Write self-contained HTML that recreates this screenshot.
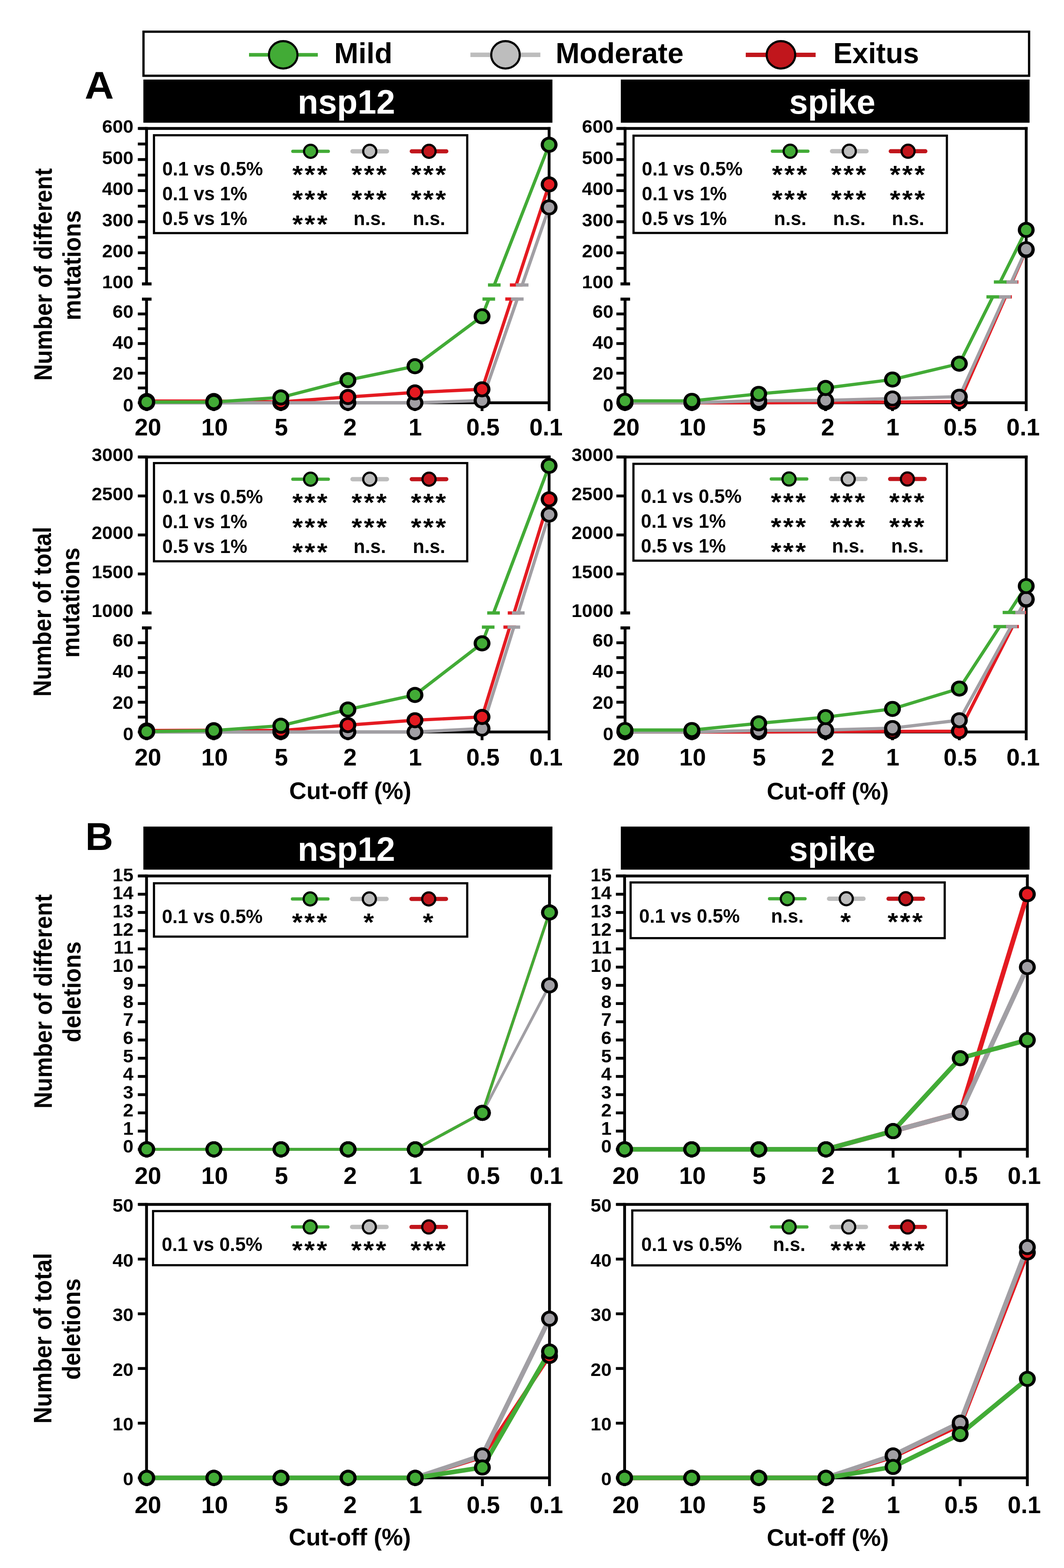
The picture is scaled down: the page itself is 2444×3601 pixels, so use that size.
<!DOCTYPE html>
<html><head><meta charset="utf-8"><title>Figure</title>
<style>html,body{margin:0;padding:0;background:#fff;} svg{display:block;} text{font-family:'Liberation Sans', Arial, Helvetica, sans-serif;font-weight:bold;}</style>
</head><body>
<svg width="2444" height="3601" viewBox="0 0 2444 3601">
<rect width="2444" height="3601" fill="#fff"/>
<rect x="329.60" y="72.80" width="2034.20" height="101.20" fill="none" stroke="#000" stroke-width="5.2"/>
<line x1="572.00" y1="125.90" x2="730.00" y2="125.90" stroke="#42ab36" stroke-width="8.2" stroke-linecap="butt"/>
<ellipse cx="650.50" cy="125.90" rx="32.8" ry="31.4" fill="#42ab36" stroke="#000" stroke-width="4.8"/>
<text transform="translate(767.41,145.00) scale(1.0430,1.0407)" font-size="64.25" text-anchor="start" fill="#000">Mild</text>
<line x1="1080.50" y1="125.90" x2="1241.20" y2="125.90" stroke="#bdbdbd" stroke-width="10.4" stroke-linecap="butt"/>
<ellipse cx="1161.10" cy="125.90" rx="32.8" ry="31.4" fill="#bdbdbd" stroke="#000" stroke-width="4.8"/>
<text transform="translate(1276.17,145.00) scale(1.0294,1.0407)" font-size="64.25" text-anchor="start" fill="#000">Moderate</text>
<line x1="1713.00" y1="125.90" x2="1873.50" y2="125.90" stroke="#c1161c" stroke-width="10.0" stroke-linecap="butt"/>
<ellipse cx="1793.80" cy="125.90" rx="32.8" ry="31.4" fill="#c1161c" stroke="#000" stroke-width="4.8"/>
<text transform="translate(1913.90,145.00) scale(1.0233,1.0407)" font-size="64.25" text-anchor="start" fill="#000">Exitus</text>
<text transform="translate(194.38,227.40) scale(1.0916,1.0407)" font-size="85.06" text-anchor="start" fill="#000">A</text>
<text transform="translate(196.07,1951.50) scale(1.0408,1.0407)" font-size="85.06" text-anchor="start" fill="#000">B</text>
<rect x="329.30" y="182.70" width="939.60" height="99.10" fill="#000"/>
<rect x="1426.00" y="182.70" width="938.90" height="99.10" fill="#000"/>
<text transform="translate(683.69,261.30) scale(1.0287,1.0407)" font-size="75.28" text-anchor="start" fill="#fff">nsp12</text>
<text transform="translate(1812.69,261.30) scale(1.0294,1.0407)" font-size="75.28" text-anchor="start" fill="#fff">spike</text>
<rect x="329.30" y="1898.30" width="939.60" height="98.90" fill="#000"/>
<rect x="1426.00" y="1898.30" width="938.90" height="98.90" fill="#000"/>
<text transform="translate(683.69,1977.10) scale(1.0287,1.0407)" font-size="75.28" text-anchor="start" fill="#fff">nsp12</text>
<text transform="translate(1812.69,1977.10) scale(1.0294,1.0407)" font-size="75.28" text-anchor="start" fill="#fff">spike</text>
<line x1="318.35" y1="295.00" x2="1264.55" y2="295.00" stroke="#000" stroke-width="6.5" stroke-linecap="butt"/>
<line x1="1261.30" y1="291.75" x2="1261.30" y2="944.00" stroke="#000" stroke-width="6.5" stroke-linecap="butt"/>
<line x1="336.60" y1="925.00" x2="1261.30" y2="925.00" stroke="#000" stroke-width="6.5" stroke-linecap="butt"/>
<line x1="337.00" y1="925.00" x2="337.00" y2="944.00" stroke="#000" stroke-width="6.5" stroke-linecap="butt"/>
<line x1="491.05" y1="925.00" x2="491.05" y2="944.00" stroke="#000" stroke-width="6.5" stroke-linecap="butt"/>
<line x1="645.10" y1="925.00" x2="645.10" y2="944.00" stroke="#000" stroke-width="6.5" stroke-linecap="butt"/>
<line x1="799.15" y1="925.00" x2="799.15" y2="944.00" stroke="#000" stroke-width="6.5" stroke-linecap="butt"/>
<line x1="953.20" y1="925.00" x2="953.20" y2="944.00" stroke="#000" stroke-width="6.5" stroke-linecap="butt"/>
<line x1="1107.25" y1="925.00" x2="1107.25" y2="944.00" stroke="#000" stroke-width="6.5" stroke-linecap="butt"/>
<line x1="336.60" y1="687.00" x2="336.60" y2="928.25" stroke="#000" stroke-width="6.5" stroke-linecap="butt"/>
<line x1="336.60" y1="291.75" x2="336.60" y2="652.00" stroke="#000" stroke-width="6.5" stroke-linecap="butt"/>
<line x1="326.10" y1="652.00" x2="348.10" y2="652.00" stroke="#000" stroke-width="7" stroke-linecap="butt"/>
<line x1="326.10" y1="687.00" x2="348.10" y2="687.00" stroke="#000" stroke-width="7" stroke-linecap="butt"/>
<line x1="316.60" y1="925.00" x2="336.60" y2="925.00" stroke="#000" stroke-width="6.5" stroke-linecap="butt"/>
<line x1="316.60" y1="857.00" x2="336.60" y2="857.00" stroke="#000" stroke-width="6.5" stroke-linecap="butt"/>
<line x1="316.60" y1="789.00" x2="336.60" y2="789.00" stroke="#000" stroke-width="6.5" stroke-linecap="butt"/>
<line x1="316.60" y1="721.00" x2="336.60" y2="721.00" stroke="#000" stroke-width="6.5" stroke-linecap="butt"/>
<line x1="316.60" y1="580.60" x2="336.60" y2="580.60" stroke="#000" stroke-width="6.5" stroke-linecap="butt"/>
<line x1="316.60" y1="509.20" x2="336.60" y2="509.20" stroke="#000" stroke-width="6.5" stroke-linecap="butt"/>
<line x1="316.60" y1="437.80" x2="336.60" y2="437.80" stroke="#000" stroke-width="6.5" stroke-linecap="butt"/>
<line x1="316.60" y1="366.40" x2="336.60" y2="366.40" stroke="#000" stroke-width="6.5" stroke-linecap="butt"/>
<line x1="316.60" y1="295.00" x2="336.60" y2="295.00" stroke="#000" stroke-width="6.5" stroke-linecap="butt"/>
<line x1="316.60" y1="891.00" x2="336.60" y2="891.00" stroke="#000" stroke-width="6.5" stroke-linecap="butt"/>
<line x1="316.60" y1="823.00" x2="336.60" y2="823.00" stroke="#000" stroke-width="6.5" stroke-linecap="butt"/>
<line x1="316.60" y1="755.00" x2="336.60" y2="755.00" stroke="#000" stroke-width="6.5" stroke-linecap="butt"/>
<line x1="316.60" y1="616.30" x2="336.60" y2="616.30" stroke="#000" stroke-width="6.5" stroke-linecap="butt"/>
<line x1="316.60" y1="544.90" x2="336.60" y2="544.90" stroke="#000" stroke-width="6.5" stroke-linecap="butt"/>
<line x1="316.60" y1="473.50" x2="336.60" y2="473.50" stroke="#000" stroke-width="6.5" stroke-linecap="butt"/>
<line x1="316.60" y1="402.10" x2="336.60" y2="402.10" stroke="#000" stroke-width="6.5" stroke-linecap="butt"/>
<line x1="316.60" y1="330.70" x2="336.60" y2="330.70" stroke="#000" stroke-width="6.5" stroke-linecap="butt"/>
<text transform="translate(306.60,944.53) scale(1.0600,1.0407)" font-size="40.80" text-anchor="end" fill="#000">0</text>
<text transform="translate(306.60,871.73) scale(1.0600,1.0407)" font-size="40.80" text-anchor="end" fill="#000">20</text>
<text transform="translate(306.60,800.93) scale(1.0600,1.0407)" font-size="40.80" text-anchor="end" fill="#000">40</text>
<text transform="translate(306.60,729.83) scale(1.0600,1.0407)" font-size="40.80" text-anchor="end" fill="#000">60</text>
<text transform="translate(306.60,591.03) scale(1.0600,1.0407)" font-size="40.80" text-anchor="end" fill="#000">200</text>
<text transform="translate(306.60,519.63) scale(1.0600,1.0407)" font-size="40.80" text-anchor="end" fill="#000">300</text>
<text transform="translate(306.60,448.23) scale(1.0600,1.0407)" font-size="40.80" text-anchor="end" fill="#000">400</text>
<text transform="translate(306.60,376.83) scale(1.0600,1.0407)" font-size="40.80" text-anchor="end" fill="#000">500</text>
<text transform="translate(306.60,305.43) scale(1.0600,1.0407)" font-size="40.80" text-anchor="end" fill="#000">600</text>
<text transform="translate(306.60,662.43) scale(1.0600,1.0407)" font-size="40.80" text-anchor="end" fill="#000">100</text>
<text transform="translate(339.87,999.50) scale(1.0300,1.0407)" font-size="53.50" text-anchor="middle" fill="#000">20</text>
<text transform="translate(492.85,999.50) scale(1.0300,1.0407)" font-size="53.50" text-anchor="middle" fill="#000">10</text>
<text transform="translate(646.02,999.50) scale(1.0300,1.0407)" font-size="53.50" text-anchor="middle" fill="#000">5</text>
<text transform="translate(803.99,999.50) scale(1.0300,1.0407)" font-size="53.50" text-anchor="middle" fill="#000">2</text>
<text transform="translate(953.84,999.50) scale(1.0300,1.0407)" font-size="53.50" text-anchor="middle" fill="#000">1</text>
<text transform="translate(1109.22,999.50) scale(1.0300,1.0407)" font-size="53.50" text-anchor="middle" fill="#000">0.5</text>
<text transform="translate(1254.17,999.50) scale(1.0300,1.0407)" font-size="53.50" text-anchor="middle" fill="#000">0.1</text>
<path d="M337.00,920.92 L491.05,920.92 L645.10,922.96 L799.15,911.74 L953.20,901.20 L1107.25,894.06 L1175.10,686.80" fill="none" stroke="#e41a21" stroke-width="7.4" stroke-linejoin="round"/>
<path d="M1185.68,654.50 L1261.30,423.52" fill="none" stroke="#e41a21" stroke-width="7.4"/>
<line x1="1160.60" y1="686.80" x2="1189.60" y2="686.80" stroke="#e41a21" stroke-width="7.5" stroke-linecap="butt"/>
<line x1="1171.18" y1="654.50" x2="1200.18" y2="654.50" stroke="#e41a21" stroke-width="7.5" stroke-linecap="butt"/>
<path d="M337.00,925.00 L491.05,925.00 L645.10,925.00 L799.15,925.00 L953.20,925.00 L1107.25,919.90 L1188.21,686.80" fill="none" stroke="#a19fa4" stroke-width="7.4" stroke-linejoin="round"/>
<path d="M1199.43,654.50 L1261.30,476.36" fill="none" stroke="#a19fa4" stroke-width="7.4"/>
<line x1="1173.71" y1="686.80" x2="1202.71" y2="686.80" stroke="#a19fa4" stroke-width="7.5" stroke-linecap="butt"/>
<line x1="1184.93" y1="654.50" x2="1213.93" y2="654.50" stroke="#a19fa4" stroke-width="7.5" stroke-linecap="butt"/>
<path d="M337.00,923.30 L491.05,923.30 L645.10,912.76 L799.15,872.98 L953.20,841.02 L1107.25,726.44 L1122.75,686.80" fill="none" stroke="#42ab36" stroke-width="7.4" stroke-linejoin="round"/>
<path d="M1135.38,654.50 L1261.30,332.49" fill="none" stroke="#42ab36" stroke-width="7.4"/>
<line x1="1108.25" y1="686.80" x2="1137.25" y2="686.80" stroke="#42ab36" stroke-width="7.5" stroke-linecap="butt"/>
<line x1="1120.88" y1="654.50" x2="1149.88" y2="654.50" stroke="#42ab36" stroke-width="7.5" stroke-linecap="butt"/>
<ellipse cx="337.00" cy="925.00" rx="19.4" ry="18.4" fill="#000"/><circle cx="337.00" cy="925.00" r="12.1" fill="#a19fa4"/>
<ellipse cx="491.05" cy="925.00" rx="19.4" ry="18.4" fill="#000"/><circle cx="491.05" cy="925.00" r="12.1" fill="#a19fa4"/>
<ellipse cx="645.10" cy="925.00" rx="19.4" ry="18.4" fill="#000"/><circle cx="645.10" cy="925.00" r="12.1" fill="#a19fa4"/>
<ellipse cx="799.15" cy="925.00" rx="19.4" ry="18.4" fill="#000"/><circle cx="799.15" cy="925.00" r="12.1" fill="#a19fa4"/>
<ellipse cx="953.20" cy="925.00" rx="19.4" ry="18.4" fill="#000"/><circle cx="953.20" cy="925.00" r="12.1" fill="#a19fa4"/>
<ellipse cx="1107.25" cy="919.90" rx="19.4" ry="18.4" fill="#000"/><circle cx="1107.25" cy="919.90" r="12.1" fill="#a19fa4"/>
<ellipse cx="1261.30" cy="476.36" rx="19.4" ry="18.4" fill="#000"/><circle cx="1261.30" cy="476.36" r="12.1" fill="#a19fa4"/>
<ellipse cx="337.00" cy="920.92" rx="19.4" ry="18.4" fill="#000"/><circle cx="337.00" cy="920.92" r="12.1" fill="#e41a21"/>
<ellipse cx="491.05" cy="920.92" rx="19.4" ry="18.4" fill="#000"/><circle cx="491.05" cy="920.92" r="12.1" fill="#e41a21"/>
<ellipse cx="645.10" cy="922.96" rx="19.4" ry="18.4" fill="#000"/><circle cx="645.10" cy="922.96" r="12.1" fill="#e41a21"/>
<ellipse cx="799.15" cy="911.74" rx="19.4" ry="18.4" fill="#000"/><circle cx="799.15" cy="911.74" r="12.1" fill="#e41a21"/>
<ellipse cx="953.20" cy="901.20" rx="19.4" ry="18.4" fill="#000"/><circle cx="953.20" cy="901.20" r="12.1" fill="#e41a21"/>
<ellipse cx="1107.25" cy="894.06" rx="19.4" ry="18.4" fill="#000"/><circle cx="1107.25" cy="894.06" r="12.1" fill="#e41a21"/>
<ellipse cx="1261.30" cy="423.52" rx="19.4" ry="18.4" fill="#000"/><circle cx="1261.30" cy="423.52" r="12.1" fill="#e41a21"/>
<ellipse cx="337.00" cy="923.30" rx="19.4" ry="18.4" fill="#000"/><circle cx="337.00" cy="923.30" r="12.1" fill="#42ab36"/>
<ellipse cx="491.05" cy="923.30" rx="19.4" ry="18.4" fill="#000"/><circle cx="491.05" cy="923.30" r="12.1" fill="#42ab36"/>
<ellipse cx="645.10" cy="912.76" rx="19.4" ry="18.4" fill="#000"/><circle cx="645.10" cy="912.76" r="12.1" fill="#42ab36"/>
<ellipse cx="799.15" cy="872.98" rx="19.4" ry="18.4" fill="#000"/><circle cx="799.15" cy="872.98" r="12.1" fill="#42ab36"/>
<ellipse cx="953.20" cy="841.02" rx="19.4" ry="18.4" fill="#000"/><circle cx="953.20" cy="841.02" r="12.1" fill="#42ab36"/>
<ellipse cx="1107.25" cy="726.44" rx="19.4" ry="18.4" fill="#000"/><circle cx="1107.25" cy="726.44" r="12.1" fill="#42ab36"/>
<ellipse cx="1261.30" cy="332.49" rx="19.4" ry="18.4" fill="#000"/><circle cx="1261.30" cy="332.49" r="12.1" fill="#42ab36"/>
<line x1="1417.55" y1="295.00" x2="2360.45" y2="295.00" stroke="#000" stroke-width="6.5" stroke-linecap="butt"/>
<line x1="2357.20" y1="291.75" x2="2357.20" y2="944.00" stroke="#000" stroke-width="6.5" stroke-linecap="butt"/>
<line x1="1435.80" y1="925.00" x2="2357.20" y2="925.00" stroke="#000" stroke-width="6.5" stroke-linecap="butt"/>
<line x1="1435.60" y1="925.00" x2="1435.60" y2="944.00" stroke="#000" stroke-width="6.5" stroke-linecap="butt"/>
<line x1="1589.20" y1="925.00" x2="1589.20" y2="944.00" stroke="#000" stroke-width="6.5" stroke-linecap="butt"/>
<line x1="1742.80" y1="925.00" x2="1742.80" y2="944.00" stroke="#000" stroke-width="6.5" stroke-linecap="butt"/>
<line x1="1896.40" y1="925.00" x2="1896.40" y2="944.00" stroke="#000" stroke-width="6.5" stroke-linecap="butt"/>
<line x1="2050.00" y1="925.00" x2="2050.00" y2="944.00" stroke="#000" stroke-width="6.5" stroke-linecap="butt"/>
<line x1="2203.60" y1="925.00" x2="2203.60" y2="944.00" stroke="#000" stroke-width="6.5" stroke-linecap="butt"/>
<line x1="1435.80" y1="687.00" x2="1435.80" y2="928.25" stroke="#000" stroke-width="6.5" stroke-linecap="butt"/>
<line x1="1435.80" y1="291.75" x2="1435.80" y2="652.00" stroke="#000" stroke-width="6.5" stroke-linecap="butt"/>
<line x1="1425.30" y1="652.00" x2="1447.30" y2="652.00" stroke="#000" stroke-width="7" stroke-linecap="butt"/>
<line x1="1425.30" y1="687.00" x2="1447.30" y2="687.00" stroke="#000" stroke-width="7" stroke-linecap="butt"/>
<line x1="1415.80" y1="925.00" x2="1435.80" y2="925.00" stroke="#000" stroke-width="6.5" stroke-linecap="butt"/>
<line x1="1415.80" y1="857.00" x2="1435.80" y2="857.00" stroke="#000" stroke-width="6.5" stroke-linecap="butt"/>
<line x1="1415.80" y1="789.00" x2="1435.80" y2="789.00" stroke="#000" stroke-width="6.5" stroke-linecap="butt"/>
<line x1="1415.80" y1="721.00" x2="1435.80" y2="721.00" stroke="#000" stroke-width="6.5" stroke-linecap="butt"/>
<line x1="1415.80" y1="580.60" x2="1435.80" y2="580.60" stroke="#000" stroke-width="6.5" stroke-linecap="butt"/>
<line x1="1415.80" y1="509.20" x2="1435.80" y2="509.20" stroke="#000" stroke-width="6.5" stroke-linecap="butt"/>
<line x1="1415.80" y1="437.80" x2="1435.80" y2="437.80" stroke="#000" stroke-width="6.5" stroke-linecap="butt"/>
<line x1="1415.80" y1="366.40" x2="1435.80" y2="366.40" stroke="#000" stroke-width="6.5" stroke-linecap="butt"/>
<line x1="1415.80" y1="295.00" x2="1435.80" y2="295.00" stroke="#000" stroke-width="6.5" stroke-linecap="butt"/>
<line x1="1415.80" y1="891.00" x2="1435.80" y2="891.00" stroke="#000" stroke-width="6.5" stroke-linecap="butt"/>
<line x1="1415.80" y1="823.00" x2="1435.80" y2="823.00" stroke="#000" stroke-width="6.5" stroke-linecap="butt"/>
<line x1="1415.80" y1="755.00" x2="1435.80" y2="755.00" stroke="#000" stroke-width="6.5" stroke-linecap="butt"/>
<line x1="1415.80" y1="616.30" x2="1435.80" y2="616.30" stroke="#000" stroke-width="6.5" stroke-linecap="butt"/>
<line x1="1415.80" y1="544.90" x2="1435.80" y2="544.90" stroke="#000" stroke-width="6.5" stroke-linecap="butt"/>
<line x1="1415.80" y1="473.50" x2="1435.80" y2="473.50" stroke="#000" stroke-width="6.5" stroke-linecap="butt"/>
<line x1="1415.80" y1="402.10" x2="1435.80" y2="402.10" stroke="#000" stroke-width="6.5" stroke-linecap="butt"/>
<line x1="1415.80" y1="330.70" x2="1435.80" y2="330.70" stroke="#000" stroke-width="6.5" stroke-linecap="butt"/>
<text transform="translate(1409.00,944.53) scale(1.0600,1.0407)" font-size="40.80" text-anchor="end" fill="#000">0</text>
<text transform="translate(1409.00,871.73) scale(1.0600,1.0407)" font-size="40.80" text-anchor="end" fill="#000">20</text>
<text transform="translate(1409.00,800.93) scale(1.0600,1.0407)" font-size="40.80" text-anchor="end" fill="#000">40</text>
<text transform="translate(1409.00,729.83) scale(1.0600,1.0407)" font-size="40.80" text-anchor="end" fill="#000">60</text>
<text transform="translate(1409.00,591.03) scale(1.0600,1.0407)" font-size="40.80" text-anchor="end" fill="#000">200</text>
<text transform="translate(1409.00,519.63) scale(1.0600,1.0407)" font-size="40.80" text-anchor="end" fill="#000">300</text>
<text transform="translate(1409.00,448.23) scale(1.0600,1.0407)" font-size="40.80" text-anchor="end" fill="#000">400</text>
<text transform="translate(1409.00,376.83) scale(1.0600,1.0407)" font-size="40.80" text-anchor="end" fill="#000">500</text>
<text transform="translate(1409.00,305.43) scale(1.0600,1.0407)" font-size="40.80" text-anchor="end" fill="#000">600</text>
<text transform="translate(1409.00,662.43) scale(1.0600,1.0407)" font-size="40.80" text-anchor="end" fill="#000">100</text>
<text transform="translate(1438.47,999.50) scale(1.0300,1.0407)" font-size="53.50" text-anchor="middle" fill="#000">20</text>
<text transform="translate(1591.00,999.50) scale(1.0300,1.0407)" font-size="53.50" text-anchor="middle" fill="#000">10</text>
<text transform="translate(1743.72,999.50) scale(1.0300,1.0407)" font-size="53.50" text-anchor="middle" fill="#000">5</text>
<text transform="translate(1901.24,999.50) scale(1.0300,1.0407)" font-size="53.50" text-anchor="middle" fill="#000">2</text>
<text transform="translate(2050.64,999.50) scale(1.0300,1.0407)" font-size="53.50" text-anchor="middle" fill="#000">1</text>
<text transform="translate(2205.57,999.50) scale(1.0300,1.0407)" font-size="53.50" text-anchor="middle" fill="#000">0.5</text>
<text transform="translate(2350.07,999.50) scale(1.0300,1.0407)" font-size="53.50" text-anchor="middle" fill="#000">0.1</text>
<path d="M1435.60,925.00 L1589.20,925.00 L1742.80,925.00 L1896.40,923.98 L2050.00,923.30 L2203.60,922.28 L2309.71,681.80" fill="none" stroke="#e41a21" stroke-width="7.4" stroke-linejoin="round"/>
<path d="M2324.80,647.60 L2357.20,574.17" fill="none" stroke="#e41a21" stroke-width="7.4"/>
<line x1="2295.21" y1="681.80" x2="2324.21" y2="681.80" stroke="#e41a21" stroke-width="7.5" stroke-linecap="butt"/>
<line x1="2310.30" y1="647.60" x2="2339.30" y2="647.60" stroke="#e41a21" stroke-width="7.5" stroke-linecap="butt"/>
<path d="M1435.60,925.00 L1589.20,925.00 L1742.80,920.24 L1896.40,919.56 L2050.00,915.14 L2203.60,911.06 L2307.58,681.80" fill="none" stroke="#a19fa4" stroke-width="7.4" stroke-linejoin="round"/>
<path d="M2323.09,647.60 L2357.20,572.39" fill="none" stroke="#a19fa4" stroke-width="7.4"/>
<line x1="2293.08" y1="681.80" x2="2322.08" y2="681.80" stroke="#a19fa4" stroke-width="7.5" stroke-linecap="butt"/>
<line x1="2308.59" y1="647.60" x2="2337.59" y2="647.60" stroke="#a19fa4" stroke-width="7.5" stroke-linecap="butt"/>
<path d="M1435.60,920.58 L1589.20,920.58 L1742.80,904.60 L1896.40,891.00 L2050.00,871.62 L2203.60,835.24 L2280.30,681.80" fill="none" stroke="#42ab36" stroke-width="7.4" stroke-linejoin="round"/>
<path d="M2297.40,647.60 L2357.20,527.98" fill="none" stroke="#42ab36" stroke-width="7.4"/>
<line x1="2265.80" y1="681.80" x2="2294.80" y2="681.80" stroke="#42ab36" stroke-width="7.5" stroke-linecap="butt"/>
<line x1="2282.90" y1="647.60" x2="2311.90" y2="647.60" stroke="#42ab36" stroke-width="7.5" stroke-linecap="butt"/>
<ellipse cx="1435.60" cy="925.00" rx="19.4" ry="18.4" fill="#000"/><circle cx="1435.60" cy="925.00" r="12.1" fill="#e41a21"/>
<ellipse cx="1589.20" cy="925.00" rx="19.4" ry="18.4" fill="#000"/><circle cx="1589.20" cy="925.00" r="12.1" fill="#e41a21"/>
<ellipse cx="1742.80" cy="925.00" rx="19.4" ry="18.4" fill="#000"/><circle cx="1742.80" cy="925.00" r="12.1" fill="#e41a21"/>
<ellipse cx="1896.40" cy="923.98" rx="19.4" ry="18.4" fill="#000"/><circle cx="1896.40" cy="923.98" r="12.1" fill="#e41a21"/>
<ellipse cx="2050.00" cy="923.30" rx="19.4" ry="18.4" fill="#000"/><circle cx="2050.00" cy="923.30" r="12.1" fill="#e41a21"/>
<ellipse cx="2203.60" cy="922.28" rx="19.4" ry="18.4" fill="#000"/><circle cx="2203.60" cy="922.28" r="12.1" fill="#e41a21"/>
<ellipse cx="2357.20" cy="574.17" rx="19.4" ry="18.4" fill="#000"/><circle cx="2357.20" cy="574.17" r="12.1" fill="#e41a21"/>
<ellipse cx="1435.60" cy="925.00" rx="19.4" ry="18.4" fill="#000"/><circle cx="1435.60" cy="925.00" r="12.1" fill="#a19fa4"/>
<ellipse cx="1589.20" cy="925.00" rx="19.4" ry="18.4" fill="#000"/><circle cx="1589.20" cy="925.00" r="12.1" fill="#a19fa4"/>
<ellipse cx="1742.80" cy="920.24" rx="19.4" ry="18.4" fill="#000"/><circle cx="1742.80" cy="920.24" r="12.1" fill="#a19fa4"/>
<ellipse cx="1896.40" cy="919.56" rx="19.4" ry="18.4" fill="#000"/><circle cx="1896.40" cy="919.56" r="12.1" fill="#a19fa4"/>
<ellipse cx="2050.00" cy="915.14" rx="19.4" ry="18.4" fill="#000"/><circle cx="2050.00" cy="915.14" r="12.1" fill="#a19fa4"/>
<ellipse cx="2203.60" cy="911.06" rx="19.4" ry="18.4" fill="#000"/><circle cx="2203.60" cy="911.06" r="12.1" fill="#a19fa4"/>
<ellipse cx="2357.20" cy="572.39" rx="19.4" ry="18.4" fill="#000"/><circle cx="2357.20" cy="572.39" r="12.1" fill="#a19fa4"/>
<ellipse cx="1435.60" cy="920.58" rx="19.4" ry="18.4" fill="#000"/><circle cx="1435.60" cy="920.58" r="12.1" fill="#42ab36"/>
<ellipse cx="1589.20" cy="920.58" rx="19.4" ry="18.4" fill="#000"/><circle cx="1589.20" cy="920.58" r="12.1" fill="#42ab36"/>
<ellipse cx="1742.80" cy="904.60" rx="19.4" ry="18.4" fill="#000"/><circle cx="1742.80" cy="904.60" r="12.1" fill="#42ab36"/>
<ellipse cx="1896.40" cy="891.00" rx="19.4" ry="18.4" fill="#000"/><circle cx="1896.40" cy="891.00" r="12.1" fill="#42ab36"/>
<ellipse cx="2050.00" cy="871.62" rx="19.4" ry="18.4" fill="#000"/><circle cx="2050.00" cy="871.62" r="12.1" fill="#42ab36"/>
<ellipse cx="2203.60" cy="835.24" rx="19.4" ry="18.4" fill="#000"/><circle cx="2203.60" cy="835.24" r="12.1" fill="#42ab36"/>
<ellipse cx="2357.20" cy="527.98" rx="19.4" ry="18.4" fill="#000"/><circle cx="2357.20" cy="527.98" r="12.1" fill="#42ab36"/>
<line x1="318.35" y1="1049.40" x2="1264.55" y2="1049.40" stroke="#000" stroke-width="6.5" stroke-linecap="butt"/>
<line x1="1261.30" y1="1046.15" x2="1261.30" y2="1700.00" stroke="#000" stroke-width="6.5" stroke-linecap="butt"/>
<line x1="336.60" y1="1681.00" x2="1261.30" y2="1681.00" stroke="#000" stroke-width="6.5" stroke-linecap="butt"/>
<line x1="337.00" y1="1681.00" x2="337.00" y2="1700.00" stroke="#000" stroke-width="6.5" stroke-linecap="butt"/>
<line x1="491.05" y1="1681.00" x2="491.05" y2="1700.00" stroke="#000" stroke-width="6.5" stroke-linecap="butt"/>
<line x1="645.10" y1="1681.00" x2="645.10" y2="1700.00" stroke="#000" stroke-width="6.5" stroke-linecap="butt"/>
<line x1="799.15" y1="1681.00" x2="799.15" y2="1700.00" stroke="#000" stroke-width="6.5" stroke-linecap="butt"/>
<line x1="953.20" y1="1681.00" x2="953.20" y2="1700.00" stroke="#000" stroke-width="6.5" stroke-linecap="butt"/>
<line x1="1107.25" y1="1681.00" x2="1107.25" y2="1700.00" stroke="#000" stroke-width="6.5" stroke-linecap="butt"/>
<line x1="336.60" y1="1442.00" x2="336.60" y2="1684.25" stroke="#000" stroke-width="6.5" stroke-linecap="butt"/>
<line x1="336.60" y1="1046.15" x2="336.60" y2="1407.70" stroke="#000" stroke-width="6.5" stroke-linecap="butt"/>
<line x1="326.10" y1="1407.70" x2="348.10" y2="1407.70" stroke="#000" stroke-width="7" stroke-linecap="butt"/>
<line x1="326.10" y1="1442.00" x2="348.10" y2="1442.00" stroke="#000" stroke-width="7" stroke-linecap="butt"/>
<line x1="316.60" y1="1681.00" x2="336.60" y2="1681.00" stroke="#000" stroke-width="6.5" stroke-linecap="butt"/>
<line x1="316.60" y1="1612.71" x2="336.60" y2="1612.71" stroke="#000" stroke-width="6.5" stroke-linecap="butt"/>
<line x1="316.60" y1="1544.43" x2="336.60" y2="1544.43" stroke="#000" stroke-width="6.5" stroke-linecap="butt"/>
<line x1="316.60" y1="1476.14" x2="336.60" y2="1476.14" stroke="#000" stroke-width="6.5" stroke-linecap="butt"/>
<line x1="316.60" y1="1318.12" x2="336.60" y2="1318.12" stroke="#000" stroke-width="6.5" stroke-linecap="butt"/>
<line x1="316.60" y1="1228.55" x2="336.60" y2="1228.55" stroke="#000" stroke-width="6.5" stroke-linecap="butt"/>
<line x1="316.60" y1="1138.98" x2="336.60" y2="1138.98" stroke="#000" stroke-width="6.5" stroke-linecap="butt"/>
<line x1="316.60" y1="1049.40" x2="336.60" y2="1049.40" stroke="#000" stroke-width="6.5" stroke-linecap="butt"/>
<line x1="316.60" y1="1646.86" x2="336.60" y2="1646.86" stroke="#000" stroke-width="6.5" stroke-linecap="butt"/>
<line x1="316.60" y1="1578.57" x2="336.60" y2="1578.57" stroke="#000" stroke-width="6.5" stroke-linecap="butt"/>
<line x1="316.60" y1="1510.29" x2="336.60" y2="1510.29" stroke="#000" stroke-width="6.5" stroke-linecap="butt"/>
<text transform="translate(306.60,1700.03) scale(1.0600,1.0407)" font-size="40.80" text-anchor="end" fill="#000">0</text>
<text transform="translate(306.60,1627.55) scale(1.0600,1.0407)" font-size="40.80" text-anchor="end" fill="#000">20</text>
<text transform="translate(306.60,1556.46) scale(1.0600,1.0407)" font-size="40.80" text-anchor="end" fill="#000">40</text>
<text transform="translate(306.60,1485.17) scale(1.0600,1.0407)" font-size="40.80" text-anchor="end" fill="#000">60</text>
<text transform="translate(306.60,1327.86) scale(1.0600,1.0407)" font-size="40.80" text-anchor="end" fill="#000">1500</text>
<text transform="translate(306.60,1238.28) scale(1.0600,1.0407)" font-size="40.80" text-anchor="end" fill="#000">2000</text>
<text transform="translate(306.60,1148.71) scale(1.0600,1.0407)" font-size="40.80" text-anchor="end" fill="#000">2500</text>
<text transform="translate(306.60,1059.13) scale(1.0600,1.0407)" font-size="40.80" text-anchor="end" fill="#000">3000</text>
<text transform="translate(306.60,1417.43) scale(1.0600,1.0407)" font-size="40.80" text-anchor="end" fill="#000">1000</text>
<text transform="translate(339.87,1757.50) scale(1.0300,1.0407)" font-size="53.50" text-anchor="middle" fill="#000">20</text>
<text transform="translate(492.85,1757.50) scale(1.0300,1.0407)" font-size="53.50" text-anchor="middle" fill="#000">10</text>
<text transform="translate(646.02,1757.50) scale(1.0300,1.0407)" font-size="53.50" text-anchor="middle" fill="#000">5</text>
<text transform="translate(803.99,1757.50) scale(1.0300,1.0407)" font-size="53.50" text-anchor="middle" fill="#000">2</text>
<text transform="translate(953.84,1757.50) scale(1.0300,1.0407)" font-size="53.50" text-anchor="middle" fill="#000">1</text>
<text transform="translate(1109.22,1757.50) scale(1.0300,1.0407)" font-size="53.50" text-anchor="middle" fill="#000">0.5</text>
<text transform="translate(1254.17,1757.50) scale(1.0300,1.0407)" font-size="53.50" text-anchor="middle" fill="#000">0.1</text>
<path d="M337.00,1677.59 L491.05,1676.90 L645.10,1677.59 L799.15,1665.29 L953.20,1654.03 L1107.25,1646.52 L1170.84,1440.20" fill="none" stroke="#e41a21" stroke-width="7.4" stroke-linejoin="round"/>
<path d="M1180.85,1407.70 L1261.30,1146.68" fill="none" stroke="#e41a21" stroke-width="7.4"/>
<line x1="1156.34" y1="1440.20" x2="1185.34" y2="1440.20" stroke="#e41a21" stroke-width="7.5" stroke-linecap="butt"/>
<line x1="1166.35" y1="1407.70" x2="1195.35" y2="1407.70" stroke="#e41a21" stroke-width="7.5" stroke-linecap="butt"/>
<path d="M337.00,1681.00 L491.05,1681.00 L645.10,1681.00 L799.15,1681.00 L953.20,1681.00 L1107.25,1673.15 L1180.28,1440.20" fill="none" stroke="#a19fa4" stroke-width="7.4" stroke-linejoin="round"/>
<path d="M1190.47,1407.70 L1261.30,1181.79" fill="none" stroke="#a19fa4" stroke-width="7.4"/>
<line x1="1165.78" y1="1440.20" x2="1194.78" y2="1440.20" stroke="#a19fa4" stroke-width="7.5" stroke-linecap="butt"/>
<line x1="1175.97" y1="1407.70" x2="1204.97" y2="1407.70" stroke="#a19fa4" stroke-width="7.5" stroke-linecap="butt"/>
<path d="M337.00,1679.98 L491.05,1677.59 L645.10,1666.66 L799.15,1629.44 L953.20,1595.98 L1107.25,1477.51 L1121.35,1440.20" fill="none" stroke="#42ab36" stroke-width="7.4" stroke-linejoin="round"/>
<path d="M1133.63,1407.70 L1261.30,1069.82" fill="none" stroke="#42ab36" stroke-width="7.4"/>
<line x1="1106.85" y1="1440.20" x2="1135.85" y2="1440.20" stroke="#42ab36" stroke-width="7.5" stroke-linecap="butt"/>
<line x1="1119.13" y1="1407.70" x2="1148.13" y2="1407.70" stroke="#42ab36" stroke-width="7.5" stroke-linecap="butt"/>
<ellipse cx="337.00" cy="1681.00" rx="19.4" ry="18.4" fill="#000"/><circle cx="337.00" cy="1681.00" r="12.1" fill="#a19fa4"/>
<ellipse cx="491.05" cy="1681.00" rx="19.4" ry="18.4" fill="#000"/><circle cx="491.05" cy="1681.00" r="12.1" fill="#a19fa4"/>
<ellipse cx="645.10" cy="1681.00" rx="19.4" ry="18.4" fill="#000"/><circle cx="645.10" cy="1681.00" r="12.1" fill="#a19fa4"/>
<ellipse cx="799.15" cy="1681.00" rx="19.4" ry="18.4" fill="#000"/><circle cx="799.15" cy="1681.00" r="12.1" fill="#a19fa4"/>
<ellipse cx="953.20" cy="1681.00" rx="19.4" ry="18.4" fill="#000"/><circle cx="953.20" cy="1681.00" r="12.1" fill="#a19fa4"/>
<ellipse cx="1107.25" cy="1673.15" rx="19.4" ry="18.4" fill="#000"/><circle cx="1107.25" cy="1673.15" r="12.1" fill="#a19fa4"/>
<ellipse cx="1261.30" cy="1181.79" rx="19.4" ry="18.4" fill="#000"/><circle cx="1261.30" cy="1181.79" r="12.1" fill="#a19fa4"/>
<ellipse cx="337.00" cy="1677.59" rx="19.4" ry="18.4" fill="#000"/><circle cx="337.00" cy="1677.59" r="12.1" fill="#e41a21"/>
<ellipse cx="491.05" cy="1676.90" rx="19.4" ry="18.4" fill="#000"/><circle cx="491.05" cy="1676.90" r="12.1" fill="#e41a21"/>
<ellipse cx="645.10" cy="1677.59" rx="19.4" ry="18.4" fill="#000"/><circle cx="645.10" cy="1677.59" r="12.1" fill="#e41a21"/>
<ellipse cx="799.15" cy="1665.29" rx="19.4" ry="18.4" fill="#000"/><circle cx="799.15" cy="1665.29" r="12.1" fill="#e41a21"/>
<ellipse cx="953.20" cy="1654.03" rx="19.4" ry="18.4" fill="#000"/><circle cx="953.20" cy="1654.03" r="12.1" fill="#e41a21"/>
<ellipse cx="1107.25" cy="1646.52" rx="19.4" ry="18.4" fill="#000"/><circle cx="1107.25" cy="1646.52" r="12.1" fill="#e41a21"/>
<ellipse cx="1261.30" cy="1146.68" rx="19.4" ry="18.4" fill="#000"/><circle cx="1261.30" cy="1146.68" r="12.1" fill="#e41a21"/>
<ellipse cx="337.00" cy="1679.98" rx="19.4" ry="18.4" fill="#000"/><circle cx="337.00" cy="1679.98" r="12.1" fill="#42ab36"/>
<ellipse cx="491.05" cy="1677.59" rx="19.4" ry="18.4" fill="#000"/><circle cx="491.05" cy="1677.59" r="12.1" fill="#42ab36"/>
<ellipse cx="645.10" cy="1666.66" rx="19.4" ry="18.4" fill="#000"/><circle cx="645.10" cy="1666.66" r="12.1" fill="#42ab36"/>
<ellipse cx="799.15" cy="1629.44" rx="19.4" ry="18.4" fill="#000"/><circle cx="799.15" cy="1629.44" r="12.1" fill="#42ab36"/>
<ellipse cx="953.20" cy="1595.98" rx="19.4" ry="18.4" fill="#000"/><circle cx="953.20" cy="1595.98" r="12.1" fill="#42ab36"/>
<ellipse cx="1107.25" cy="1477.51" rx="19.4" ry="18.4" fill="#000"/><circle cx="1107.25" cy="1477.51" r="12.1" fill="#42ab36"/>
<ellipse cx="1261.30" cy="1069.82" rx="19.4" ry="18.4" fill="#000"/><circle cx="1261.30" cy="1069.82" r="12.1" fill="#42ab36"/>
<line x1="1417.55" y1="1049.40" x2="2360.45" y2="1049.40" stroke="#000" stroke-width="6.5" stroke-linecap="butt"/>
<line x1="2357.20" y1="1046.15" x2="2357.20" y2="1700.00" stroke="#000" stroke-width="6.5" stroke-linecap="butt"/>
<line x1="1435.80" y1="1681.00" x2="2357.20" y2="1681.00" stroke="#000" stroke-width="6.5" stroke-linecap="butt"/>
<line x1="1435.60" y1="1681.00" x2="1435.60" y2="1700.00" stroke="#000" stroke-width="6.5" stroke-linecap="butt"/>
<line x1="1589.20" y1="1681.00" x2="1589.20" y2="1700.00" stroke="#000" stroke-width="6.5" stroke-linecap="butt"/>
<line x1="1742.80" y1="1681.00" x2="1742.80" y2="1700.00" stroke="#000" stroke-width="6.5" stroke-linecap="butt"/>
<line x1="1896.40" y1="1681.00" x2="1896.40" y2="1700.00" stroke="#000" stroke-width="6.5" stroke-linecap="butt"/>
<line x1="2050.00" y1="1681.00" x2="2050.00" y2="1700.00" stroke="#000" stroke-width="6.5" stroke-linecap="butt"/>
<line x1="2203.60" y1="1681.00" x2="2203.60" y2="1700.00" stroke="#000" stroke-width="6.5" stroke-linecap="butt"/>
<line x1="1435.80" y1="1442.00" x2="1435.80" y2="1684.25" stroke="#000" stroke-width="6.5" stroke-linecap="butt"/>
<line x1="1435.80" y1="1046.15" x2="1435.80" y2="1407.70" stroke="#000" stroke-width="6.5" stroke-linecap="butt"/>
<line x1="1425.30" y1="1407.70" x2="1447.30" y2="1407.70" stroke="#000" stroke-width="7" stroke-linecap="butt"/>
<line x1="1425.30" y1="1442.00" x2="1447.30" y2="1442.00" stroke="#000" stroke-width="7" stroke-linecap="butt"/>
<line x1="1415.80" y1="1681.00" x2="1435.80" y2="1681.00" stroke="#000" stroke-width="6.5" stroke-linecap="butt"/>
<line x1="1415.80" y1="1612.71" x2="1435.80" y2="1612.71" stroke="#000" stroke-width="6.5" stroke-linecap="butt"/>
<line x1="1415.80" y1="1544.43" x2="1435.80" y2="1544.43" stroke="#000" stroke-width="6.5" stroke-linecap="butt"/>
<line x1="1415.80" y1="1476.14" x2="1435.80" y2="1476.14" stroke="#000" stroke-width="6.5" stroke-linecap="butt"/>
<line x1="1415.80" y1="1318.12" x2="1435.80" y2="1318.12" stroke="#000" stroke-width="6.5" stroke-linecap="butt"/>
<line x1="1415.80" y1="1228.55" x2="1435.80" y2="1228.55" stroke="#000" stroke-width="6.5" stroke-linecap="butt"/>
<line x1="1415.80" y1="1138.98" x2="1435.80" y2="1138.98" stroke="#000" stroke-width="6.5" stroke-linecap="butt"/>
<line x1="1415.80" y1="1049.40" x2="1435.80" y2="1049.40" stroke="#000" stroke-width="6.5" stroke-linecap="butt"/>
<line x1="1415.80" y1="1646.86" x2="1435.80" y2="1646.86" stroke="#000" stroke-width="6.5" stroke-linecap="butt"/>
<line x1="1415.80" y1="1578.57" x2="1435.80" y2="1578.57" stroke="#000" stroke-width="6.5" stroke-linecap="butt"/>
<line x1="1415.80" y1="1510.29" x2="1435.80" y2="1510.29" stroke="#000" stroke-width="6.5" stroke-linecap="butt"/>
<text transform="translate(1409.00,1700.03) scale(1.0600,1.0407)" font-size="40.80" text-anchor="end" fill="#000">0</text>
<text transform="translate(1409.00,1627.55) scale(1.0600,1.0407)" font-size="40.80" text-anchor="end" fill="#000">20</text>
<text transform="translate(1409.00,1556.46) scale(1.0600,1.0407)" font-size="40.80" text-anchor="end" fill="#000">40</text>
<text transform="translate(1409.00,1485.17) scale(1.0600,1.0407)" font-size="40.80" text-anchor="end" fill="#000">60</text>
<text transform="translate(1409.00,1327.86) scale(1.0600,1.0407)" font-size="40.80" text-anchor="end" fill="#000">1500</text>
<text transform="translate(1409.00,1238.28) scale(1.0600,1.0407)" font-size="40.80" text-anchor="end" fill="#000">2000</text>
<text transform="translate(1409.00,1148.71) scale(1.0600,1.0407)" font-size="40.80" text-anchor="end" fill="#000">2500</text>
<text transform="translate(1409.00,1059.13) scale(1.0600,1.0407)" font-size="40.80" text-anchor="end" fill="#000">3000</text>
<text transform="translate(1409.00,1417.43) scale(1.0600,1.0407)" font-size="40.80" text-anchor="end" fill="#000">1000</text>
<text transform="translate(1438.47,1757.50) scale(1.0300,1.0407)" font-size="53.50" text-anchor="middle" fill="#000">20</text>
<text transform="translate(1591.00,1757.50) scale(1.0300,1.0407)" font-size="53.50" text-anchor="middle" fill="#000">10</text>
<text transform="translate(1743.72,1757.50) scale(1.0300,1.0407)" font-size="53.50" text-anchor="middle" fill="#000">5</text>
<text transform="translate(1901.24,1757.50) scale(1.0300,1.0407)" font-size="53.50" text-anchor="middle" fill="#000">2</text>
<text transform="translate(2050.64,1757.50) scale(1.0300,1.0407)" font-size="53.50" text-anchor="middle" fill="#000">1</text>
<text transform="translate(2205.57,1757.50) scale(1.0300,1.0407)" font-size="53.50" text-anchor="middle" fill="#000">0.5</text>
<text transform="translate(2350.07,1757.50) scale(1.0300,1.0407)" font-size="53.50" text-anchor="middle" fill="#000">0.1</text>
<path d="M1435.60,1681.00 L1589.20,1681.00 L1742.80,1681.00 L1896.40,1679.98 L2050.00,1679.63 L2203.60,1679.29 L2325.80,1439.00" fill="none" stroke="#e41a21" stroke-width="7.4" stroke-linejoin="round"/>
<path d="M2342.27,1406.60 L2357.20,1377.24" fill="none" stroke="#e41a21" stroke-width="7.4"/>
<line x1="2311.30" y1="1439.00" x2="2340.30" y2="1439.00" stroke="#e41a21" stroke-width="7.5" stroke-linecap="butt"/>
<line x1="2327.77" y1="1406.60" x2="2356.77" y2="1406.60" stroke="#e41a21" stroke-width="7.5" stroke-linecap="butt"/>
<path d="M1435.60,1681.00 L1589.20,1681.00 L1742.80,1677.59 L1896.40,1676.56 L2050.00,1672.12 L2203.60,1654.03 L2322.24,1439.00" fill="none" stroke="#a19fa4" stroke-width="7.4" stroke-linejoin="round"/>
<path d="M2340.11,1406.60 L2357.20,1375.63" fill="none" stroke="#a19fa4" stroke-width="7.4"/>
<line x1="2307.74" y1="1439.00" x2="2336.74" y2="1439.00" stroke="#a19fa4" stroke-width="7.5" stroke-linecap="butt"/>
<line x1="2325.61" y1="1406.60" x2="2354.61" y2="1406.60" stroke="#a19fa4" stroke-width="7.5" stroke-linecap="butt"/>
<path d="M1435.60,1676.56 L1589.20,1676.56 L1742.80,1661.20 L1896.40,1646.86 L2050.00,1628.08 L2203.60,1581.30 L2296.45,1439.00" fill="none" stroke="#42ab36" stroke-width="7.4" stroke-linejoin="round"/>
<path d="M2317.59,1406.60 L2357.20,1345.89" fill="none" stroke="#42ab36" stroke-width="7.4"/>
<line x1="2281.95" y1="1439.00" x2="2310.95" y2="1439.00" stroke="#42ab36" stroke-width="7.5" stroke-linecap="butt"/>
<line x1="2303.09" y1="1406.60" x2="2332.09" y2="1406.60" stroke="#42ab36" stroke-width="7.5" stroke-linecap="butt"/>
<ellipse cx="1435.60" cy="1681.00" rx="19.4" ry="18.4" fill="#000"/><circle cx="1435.60" cy="1681.00" r="12.1" fill="#e41a21"/>
<ellipse cx="1589.20" cy="1681.00" rx="19.4" ry="18.4" fill="#000"/><circle cx="1589.20" cy="1681.00" r="12.1" fill="#e41a21"/>
<ellipse cx="1742.80" cy="1681.00" rx="19.4" ry="18.4" fill="#000"/><circle cx="1742.80" cy="1681.00" r="12.1" fill="#e41a21"/>
<ellipse cx="1896.40" cy="1679.98" rx="19.4" ry="18.4" fill="#000"/><circle cx="1896.40" cy="1679.98" r="12.1" fill="#e41a21"/>
<ellipse cx="2050.00" cy="1679.63" rx="19.4" ry="18.4" fill="#000"/><circle cx="2050.00" cy="1679.63" r="12.1" fill="#e41a21"/>
<ellipse cx="2203.60" cy="1679.29" rx="19.4" ry="18.4" fill="#000"/><circle cx="2203.60" cy="1679.29" r="12.1" fill="#e41a21"/>
<ellipse cx="2357.20" cy="1377.24" rx="19.4" ry="18.4" fill="#000"/><circle cx="2357.20" cy="1377.24" r="12.1" fill="#e41a21"/>
<ellipse cx="1435.60" cy="1681.00" rx="19.4" ry="18.4" fill="#000"/><circle cx="1435.60" cy="1681.00" r="12.1" fill="#a19fa4"/>
<ellipse cx="1589.20" cy="1681.00" rx="19.4" ry="18.4" fill="#000"/><circle cx="1589.20" cy="1681.00" r="12.1" fill="#a19fa4"/>
<ellipse cx="1742.80" cy="1677.59" rx="19.4" ry="18.4" fill="#000"/><circle cx="1742.80" cy="1677.59" r="12.1" fill="#a19fa4"/>
<ellipse cx="1896.40" cy="1676.56" rx="19.4" ry="18.4" fill="#000"/><circle cx="1896.40" cy="1676.56" r="12.1" fill="#a19fa4"/>
<ellipse cx="2050.00" cy="1672.12" rx="19.4" ry="18.4" fill="#000"/><circle cx="2050.00" cy="1672.12" r="12.1" fill="#a19fa4"/>
<ellipse cx="2203.60" cy="1654.03" rx="19.4" ry="18.4" fill="#000"/><circle cx="2203.60" cy="1654.03" r="12.1" fill="#a19fa4"/>
<ellipse cx="2357.20" cy="1375.63" rx="19.4" ry="18.4" fill="#000"/><circle cx="2357.20" cy="1375.63" r="12.1" fill="#a19fa4"/>
<ellipse cx="1435.60" cy="1676.56" rx="19.4" ry="18.4" fill="#000"/><circle cx="1435.60" cy="1676.56" r="12.1" fill="#42ab36"/>
<ellipse cx="1589.20" cy="1676.56" rx="19.4" ry="18.4" fill="#000"/><circle cx="1589.20" cy="1676.56" r="12.1" fill="#42ab36"/>
<ellipse cx="1742.80" cy="1661.20" rx="19.4" ry="18.4" fill="#000"/><circle cx="1742.80" cy="1661.20" r="12.1" fill="#42ab36"/>
<ellipse cx="1896.40" cy="1646.86" rx="19.4" ry="18.4" fill="#000"/><circle cx="1896.40" cy="1646.86" r="12.1" fill="#42ab36"/>
<ellipse cx="2050.00" cy="1628.08" rx="19.4" ry="18.4" fill="#000"/><circle cx="2050.00" cy="1628.08" r="12.1" fill="#42ab36"/>
<ellipse cx="2203.60" cy="1581.30" rx="19.4" ry="18.4" fill="#000"/><circle cx="2203.60" cy="1581.30" r="12.1" fill="#42ab36"/>
<ellipse cx="2357.20" cy="1345.89" rx="19.4" ry="18.4" fill="#000"/><circle cx="2357.20" cy="1345.89" r="12.1" fill="#42ab36"/>
<line x1="318.35" y1="2011.80" x2="1265.45" y2="2011.80" stroke="#000" stroke-width="6.5" stroke-linecap="butt"/>
<line x1="1262.20" y1="2008.55" x2="1262.20" y2="2658.50" stroke="#000" stroke-width="6.5" stroke-linecap="butt"/>
<line x1="336.60" y1="2639.50" x2="1262.20" y2="2639.50" stroke="#000" stroke-width="6.5" stroke-linecap="butt"/>
<line x1="337.00" y1="2639.50" x2="337.00" y2="2658.50" stroke="#000" stroke-width="6.5" stroke-linecap="butt"/>
<line x1="491.20" y1="2639.50" x2="491.20" y2="2658.50" stroke="#000" stroke-width="6.5" stroke-linecap="butt"/>
<line x1="645.40" y1="2639.50" x2="645.40" y2="2658.50" stroke="#000" stroke-width="6.5" stroke-linecap="butt"/>
<line x1="799.60" y1="2639.50" x2="799.60" y2="2658.50" stroke="#000" stroke-width="6.5" stroke-linecap="butt"/>
<line x1="953.80" y1="2639.50" x2="953.80" y2="2658.50" stroke="#000" stroke-width="6.5" stroke-linecap="butt"/>
<line x1="1108.00" y1="2639.50" x2="1108.00" y2="2658.50" stroke="#000" stroke-width="6.5" stroke-linecap="butt"/>
<line x1="336.60" y1="2008.55" x2="336.60" y2="2642.75" stroke="#000" stroke-width="6.5" stroke-linecap="butt"/>
<line x1="316.60" y1="2639.50" x2="336.60" y2="2639.50" stroke="#000" stroke-width="6.5" stroke-linecap="butt"/>
<line x1="316.60" y1="2597.65" x2="336.60" y2="2597.65" stroke="#000" stroke-width="6.5" stroke-linecap="butt"/>
<line x1="316.60" y1="2555.81" x2="336.60" y2="2555.81" stroke="#000" stroke-width="6.5" stroke-linecap="butt"/>
<line x1="316.60" y1="2513.96" x2="336.60" y2="2513.96" stroke="#000" stroke-width="6.5" stroke-linecap="butt"/>
<line x1="316.60" y1="2472.11" x2="336.60" y2="2472.11" stroke="#000" stroke-width="6.5" stroke-linecap="butt"/>
<line x1="316.60" y1="2430.27" x2="336.60" y2="2430.27" stroke="#000" stroke-width="6.5" stroke-linecap="butt"/>
<line x1="316.60" y1="2388.42" x2="336.60" y2="2388.42" stroke="#000" stroke-width="6.5" stroke-linecap="butt"/>
<line x1="316.60" y1="2346.57" x2="336.60" y2="2346.57" stroke="#000" stroke-width="6.5" stroke-linecap="butt"/>
<line x1="316.60" y1="2304.73" x2="336.60" y2="2304.73" stroke="#000" stroke-width="6.5" stroke-linecap="butt"/>
<line x1="316.60" y1="2262.88" x2="336.60" y2="2262.88" stroke="#000" stroke-width="6.5" stroke-linecap="butt"/>
<line x1="316.60" y1="2221.03" x2="336.60" y2="2221.03" stroke="#000" stroke-width="6.5" stroke-linecap="butt"/>
<line x1="316.60" y1="2179.19" x2="336.60" y2="2179.19" stroke="#000" stroke-width="6.5" stroke-linecap="butt"/>
<line x1="316.60" y1="2137.34" x2="336.60" y2="2137.34" stroke="#000" stroke-width="6.5" stroke-linecap="butt"/>
<line x1="316.60" y1="2095.49" x2="336.60" y2="2095.49" stroke="#000" stroke-width="6.5" stroke-linecap="butt"/>
<line x1="316.60" y1="2053.65" x2="336.60" y2="2053.65" stroke="#000" stroke-width="6.5" stroke-linecap="butt"/>
<line x1="316.60" y1="2011.80" x2="336.60" y2="2011.80" stroke="#000" stroke-width="6.5" stroke-linecap="butt"/>
<text transform="translate(306.60,2647.48) scale(1.0600,1.0407)" font-size="40.80" text-anchor="end" fill="#000">0</text>
<text transform="translate(306.60,2605.90) scale(1.0600,1.0407)" font-size="40.80" text-anchor="end" fill="#000">1</text>
<text transform="translate(306.60,2564.33) scale(1.0600,1.0407)" font-size="40.80" text-anchor="end" fill="#000">2</text>
<text transform="translate(306.60,2522.75) scale(1.0600,1.0407)" font-size="40.80" text-anchor="end" fill="#000">3</text>
<text transform="translate(306.60,2481.17) scale(1.0600,1.0407)" font-size="40.80" text-anchor="end" fill="#000">4</text>
<text transform="translate(306.60,2439.60) scale(1.0600,1.0407)" font-size="40.80" text-anchor="end" fill="#000">5</text>
<text transform="translate(306.60,2398.02) scale(1.0600,1.0407)" font-size="40.80" text-anchor="end" fill="#000">6</text>
<text transform="translate(306.60,2356.44) scale(1.0600,1.0407)" font-size="40.80" text-anchor="end" fill="#000">7</text>
<text transform="translate(306.60,2314.87) scale(1.0600,1.0407)" font-size="40.80" text-anchor="end" fill="#000">8</text>
<text transform="translate(306.60,2273.29) scale(1.0600,1.0407)" font-size="40.80" text-anchor="end" fill="#000">9</text>
<text transform="translate(306.60,2231.71) scale(1.0600,1.0407)" font-size="40.80" text-anchor="end" fill="#000">10</text>
<text transform="translate(306.60,2190.14) scale(1.0600,1.0407)" font-size="40.80" text-anchor="end" fill="#000">11</text>
<text transform="translate(306.60,2148.56) scale(1.0600,1.0407)" font-size="40.80" text-anchor="end" fill="#000">12</text>
<text transform="translate(306.60,2106.98) scale(1.0600,1.0407)" font-size="40.80" text-anchor="end" fill="#000">13</text>
<text transform="translate(306.60,2065.41) scale(1.0600,1.0407)" font-size="40.80" text-anchor="end" fill="#000">14</text>
<text transform="translate(306.60,2023.83) scale(1.0600,1.0407)" font-size="40.80" text-anchor="end" fill="#000">15</text>
<text transform="translate(339.87,2718.70) scale(1.0300,1.0407)" font-size="53.50" text-anchor="middle" fill="#000">20</text>
<text transform="translate(493.00,2718.70) scale(1.0300,1.0407)" font-size="53.50" text-anchor="middle" fill="#000">10</text>
<text transform="translate(646.32,2718.70) scale(1.0300,1.0407)" font-size="53.50" text-anchor="middle" fill="#000">5</text>
<text transform="translate(804.44,2718.70) scale(1.0300,1.0407)" font-size="53.50" text-anchor="middle" fill="#000">2</text>
<text transform="translate(954.44,2718.70) scale(1.0300,1.0407)" font-size="53.50" text-anchor="middle" fill="#000">1</text>
<text transform="translate(1109.97,2718.70) scale(1.0300,1.0407)" font-size="53.50" text-anchor="middle" fill="#000">0.5</text>
<text transform="translate(1255.07,2718.70) scale(1.0300,1.0407)" font-size="53.50" text-anchor="middle" fill="#000">0.1</text>
<path d="M337.00,2639.50 L491.20,2639.50 L645.40,2639.50 L799.60,2639.50 L953.80,2639.50 L1108.00,2555.81 L1262.20,2095.49" fill="none" stroke="#e41a21" stroke-width="6.4" stroke-linejoin="round"/>
<path d="M337.00,2639.50 L491.20,2639.50 L645.40,2639.50 L799.60,2639.50 L953.80,2639.50 L1108.00,2555.81 L1262.20,2262.88" fill="none" stroke="#a19fa4" stroke-width="6.4" stroke-linejoin="round"/>
<path d="M337.00,2639.50 L491.20,2639.50 L645.40,2639.50 L799.60,2639.50 L953.80,2639.50 L1108.00,2555.81 L1262.20,2095.49" fill="none" stroke="#42ab36" stroke-width="6.4" stroke-linejoin="round"/>
<ellipse cx="337.00" cy="2639.50" rx="19.4" ry="18.4" fill="#000"/><circle cx="337.00" cy="2639.50" r="12.1" fill="#e41a21"/>
<ellipse cx="491.20" cy="2639.50" rx="19.4" ry="18.4" fill="#000"/><circle cx="491.20" cy="2639.50" r="12.1" fill="#e41a21"/>
<ellipse cx="645.40" cy="2639.50" rx="19.4" ry="18.4" fill="#000"/><circle cx="645.40" cy="2639.50" r="12.1" fill="#e41a21"/>
<ellipse cx="799.60" cy="2639.50" rx="19.4" ry="18.4" fill="#000"/><circle cx="799.60" cy="2639.50" r="12.1" fill="#e41a21"/>
<ellipse cx="953.80" cy="2639.50" rx="19.4" ry="18.4" fill="#000"/><circle cx="953.80" cy="2639.50" r="12.1" fill="#e41a21"/>
<ellipse cx="1108.00" cy="2555.81" rx="19.4" ry="18.4" fill="#000"/><circle cx="1108.00" cy="2555.81" r="12.1" fill="#e41a21"/>
<ellipse cx="1262.20" cy="2095.49" rx="19.4" ry="18.4" fill="#000"/><circle cx="1262.20" cy="2095.49" r="12.1" fill="#e41a21"/>
<ellipse cx="337.00" cy="2639.50" rx="19.4" ry="18.4" fill="#000"/><circle cx="337.00" cy="2639.50" r="12.1" fill="#a19fa4"/>
<ellipse cx="491.20" cy="2639.50" rx="19.4" ry="18.4" fill="#000"/><circle cx="491.20" cy="2639.50" r="12.1" fill="#a19fa4"/>
<ellipse cx="645.40" cy="2639.50" rx="19.4" ry="18.4" fill="#000"/><circle cx="645.40" cy="2639.50" r="12.1" fill="#a19fa4"/>
<ellipse cx="799.60" cy="2639.50" rx="19.4" ry="18.4" fill="#000"/><circle cx="799.60" cy="2639.50" r="12.1" fill="#a19fa4"/>
<ellipse cx="953.80" cy="2639.50" rx="19.4" ry="18.4" fill="#000"/><circle cx="953.80" cy="2639.50" r="12.1" fill="#a19fa4"/>
<ellipse cx="1108.00" cy="2555.81" rx="19.4" ry="18.4" fill="#000"/><circle cx="1108.00" cy="2555.81" r="12.1" fill="#a19fa4"/>
<ellipse cx="1262.20" cy="2262.88" rx="19.4" ry="18.4" fill="#000"/><circle cx="1262.20" cy="2262.88" r="12.1" fill="#a19fa4"/>
<ellipse cx="337.00" cy="2639.50" rx="19.4" ry="18.4" fill="#000"/><circle cx="337.00" cy="2639.50" r="12.1" fill="#42ab36"/>
<ellipse cx="491.20" cy="2639.50" rx="19.4" ry="18.4" fill="#000"/><circle cx="491.20" cy="2639.50" r="12.1" fill="#42ab36"/>
<ellipse cx="645.40" cy="2639.50" rx="19.4" ry="18.4" fill="#000"/><circle cx="645.40" cy="2639.50" r="12.1" fill="#42ab36"/>
<ellipse cx="799.60" cy="2639.50" rx="19.4" ry="18.4" fill="#000"/><circle cx="799.60" cy="2639.50" r="12.1" fill="#42ab36"/>
<ellipse cx="953.80" cy="2639.50" rx="19.4" ry="18.4" fill="#000"/><circle cx="953.80" cy="2639.50" r="12.1" fill="#42ab36"/>
<ellipse cx="1108.00" cy="2555.81" rx="19.4" ry="18.4" fill="#000"/><circle cx="1108.00" cy="2555.81" r="12.1" fill="#42ab36"/>
<ellipse cx="1262.20" cy="2095.49" rx="19.4" ry="18.4" fill="#000"/><circle cx="1262.20" cy="2095.49" r="12.1" fill="#42ab36"/>
<line x1="1416.45" y1="2011.80" x2="2363.05" y2="2011.80" stroke="#000" stroke-width="6.5" stroke-linecap="butt"/>
<line x1="2359.80" y1="2008.55" x2="2359.80" y2="2658.50" stroke="#000" stroke-width="6.5" stroke-linecap="butt"/>
<line x1="1434.70" y1="2639.50" x2="2359.80" y2="2639.50" stroke="#000" stroke-width="6.5" stroke-linecap="butt"/>
<line x1="1434.60" y1="2639.50" x2="1434.60" y2="2658.50" stroke="#000" stroke-width="6.5" stroke-linecap="butt"/>
<line x1="1588.80" y1="2639.50" x2="1588.80" y2="2658.50" stroke="#000" stroke-width="6.5" stroke-linecap="butt"/>
<line x1="1743.00" y1="2639.50" x2="1743.00" y2="2658.50" stroke="#000" stroke-width="6.5" stroke-linecap="butt"/>
<line x1="1897.20" y1="2639.50" x2="1897.20" y2="2658.50" stroke="#000" stroke-width="6.5" stroke-linecap="butt"/>
<line x1="2051.40" y1="2639.50" x2="2051.40" y2="2658.50" stroke="#000" stroke-width="6.5" stroke-linecap="butt"/>
<line x1="2205.60" y1="2639.50" x2="2205.60" y2="2658.50" stroke="#000" stroke-width="6.5" stroke-linecap="butt"/>
<line x1="1434.70" y1="2008.55" x2="1434.70" y2="2642.75" stroke="#000" stroke-width="6.5" stroke-linecap="butt"/>
<line x1="1414.70" y1="2639.50" x2="1434.70" y2="2639.50" stroke="#000" stroke-width="6.5" stroke-linecap="butt"/>
<line x1="1414.70" y1="2597.65" x2="1434.70" y2="2597.65" stroke="#000" stroke-width="6.5" stroke-linecap="butt"/>
<line x1="1414.70" y1="2555.81" x2="1434.70" y2="2555.81" stroke="#000" stroke-width="6.5" stroke-linecap="butt"/>
<line x1="1414.70" y1="2513.96" x2="1434.70" y2="2513.96" stroke="#000" stroke-width="6.5" stroke-linecap="butt"/>
<line x1="1414.70" y1="2472.11" x2="1434.70" y2="2472.11" stroke="#000" stroke-width="6.5" stroke-linecap="butt"/>
<line x1="1414.70" y1="2430.27" x2="1434.70" y2="2430.27" stroke="#000" stroke-width="6.5" stroke-linecap="butt"/>
<line x1="1414.70" y1="2388.42" x2="1434.70" y2="2388.42" stroke="#000" stroke-width="6.5" stroke-linecap="butt"/>
<line x1="1414.70" y1="2346.57" x2="1434.70" y2="2346.57" stroke="#000" stroke-width="6.5" stroke-linecap="butt"/>
<line x1="1414.70" y1="2304.73" x2="1434.70" y2="2304.73" stroke="#000" stroke-width="6.5" stroke-linecap="butt"/>
<line x1="1414.70" y1="2262.88" x2="1434.70" y2="2262.88" stroke="#000" stroke-width="6.5" stroke-linecap="butt"/>
<line x1="1414.70" y1="2221.03" x2="1434.70" y2="2221.03" stroke="#000" stroke-width="6.5" stroke-linecap="butt"/>
<line x1="1414.70" y1="2179.19" x2="1434.70" y2="2179.19" stroke="#000" stroke-width="6.5" stroke-linecap="butt"/>
<line x1="1414.70" y1="2137.34" x2="1434.70" y2="2137.34" stroke="#000" stroke-width="6.5" stroke-linecap="butt"/>
<line x1="1414.70" y1="2095.49" x2="1434.70" y2="2095.49" stroke="#000" stroke-width="6.5" stroke-linecap="butt"/>
<line x1="1414.70" y1="2053.65" x2="1434.70" y2="2053.65" stroke="#000" stroke-width="6.5" stroke-linecap="butt"/>
<line x1="1414.70" y1="2011.80" x2="1434.70" y2="2011.80" stroke="#000" stroke-width="6.5" stroke-linecap="butt"/>
<text transform="translate(1404.70,2647.48) scale(1.0600,1.0407)" font-size="40.80" text-anchor="end" fill="#000">0</text>
<text transform="translate(1404.70,2605.90) scale(1.0600,1.0407)" font-size="40.80" text-anchor="end" fill="#000">1</text>
<text transform="translate(1404.70,2564.33) scale(1.0600,1.0407)" font-size="40.80" text-anchor="end" fill="#000">2</text>
<text transform="translate(1404.70,2522.75) scale(1.0600,1.0407)" font-size="40.80" text-anchor="end" fill="#000">3</text>
<text transform="translate(1404.70,2481.17) scale(1.0600,1.0407)" font-size="40.80" text-anchor="end" fill="#000">4</text>
<text transform="translate(1404.70,2439.60) scale(1.0600,1.0407)" font-size="40.80" text-anchor="end" fill="#000">5</text>
<text transform="translate(1404.70,2398.02) scale(1.0600,1.0407)" font-size="40.80" text-anchor="end" fill="#000">6</text>
<text transform="translate(1404.70,2356.44) scale(1.0600,1.0407)" font-size="40.80" text-anchor="end" fill="#000">7</text>
<text transform="translate(1404.70,2314.87) scale(1.0600,1.0407)" font-size="40.80" text-anchor="end" fill="#000">8</text>
<text transform="translate(1404.70,2273.29) scale(1.0600,1.0407)" font-size="40.80" text-anchor="end" fill="#000">9</text>
<text transform="translate(1404.70,2231.71) scale(1.0600,1.0407)" font-size="40.80" text-anchor="end" fill="#000">10</text>
<text transform="translate(1404.70,2190.14) scale(1.0600,1.0407)" font-size="40.80" text-anchor="end" fill="#000">11</text>
<text transform="translate(1404.70,2148.56) scale(1.0600,1.0407)" font-size="40.80" text-anchor="end" fill="#000">12</text>
<text transform="translate(1404.70,2106.98) scale(1.0600,1.0407)" font-size="40.80" text-anchor="end" fill="#000">13</text>
<text transform="translate(1404.70,2065.41) scale(1.0600,1.0407)" font-size="40.80" text-anchor="end" fill="#000">14</text>
<text transform="translate(1404.70,2023.83) scale(1.0600,1.0407)" font-size="40.80" text-anchor="end" fill="#000">15</text>
<text transform="translate(1437.47,2718.70) scale(1.0300,1.0407)" font-size="53.50" text-anchor="middle" fill="#000">20</text>
<text transform="translate(1590.60,2718.70) scale(1.0300,1.0407)" font-size="53.50" text-anchor="middle" fill="#000">10</text>
<text transform="translate(1743.92,2718.70) scale(1.0300,1.0407)" font-size="53.50" text-anchor="middle" fill="#000">5</text>
<text transform="translate(1902.04,2718.70) scale(1.0300,1.0407)" font-size="53.50" text-anchor="middle" fill="#000">2</text>
<text transform="translate(2052.04,2718.70) scale(1.0300,1.0407)" font-size="53.50" text-anchor="middle" fill="#000">1</text>
<text transform="translate(2207.57,2718.70) scale(1.0300,1.0407)" font-size="53.50" text-anchor="middle" fill="#000">0.5</text>
<text transform="translate(2352.67,2718.70) scale(1.0300,1.0407)" font-size="53.50" text-anchor="middle" fill="#000">0.1</text>
<path d="M1434.60,2639.50 L1588.80,2639.50 L1743.00,2639.50 L1897.20,2639.50 L2051.40,2597.65 L2205.60,2555.81 L2359.80,2053.65" fill="none" stroke="#e41a21" stroke-width="11.0" stroke-linejoin="round"/>
<path d="M1434.60,2639.50 L1588.80,2639.50 L1743.00,2639.50 L1897.20,2639.50 L2051.40,2597.65 L2205.60,2555.81 L2359.80,2221.03" fill="none" stroke="#a19fa4" stroke-width="11.0" stroke-linejoin="round"/>
<path d="M1434.60,2639.50 L1588.80,2639.50 L1743.00,2639.50 L1897.20,2639.50 L2051.40,2597.65 L2205.60,2430.27 L2359.80,2388.42" fill="none" stroke="#42ab36" stroke-width="10.5" stroke-linejoin="round"/>
<ellipse cx="1434.60" cy="2639.50" rx="19.4" ry="18.4" fill="#000"/><circle cx="1434.60" cy="2639.50" r="12.1" fill="#e41a21"/>
<ellipse cx="1588.80" cy="2639.50" rx="19.4" ry="18.4" fill="#000"/><circle cx="1588.80" cy="2639.50" r="12.1" fill="#e41a21"/>
<ellipse cx="1743.00" cy="2639.50" rx="19.4" ry="18.4" fill="#000"/><circle cx="1743.00" cy="2639.50" r="12.1" fill="#e41a21"/>
<ellipse cx="1897.20" cy="2639.50" rx="19.4" ry="18.4" fill="#000"/><circle cx="1897.20" cy="2639.50" r="12.1" fill="#e41a21"/>
<ellipse cx="2051.40" cy="2597.65" rx="19.4" ry="18.4" fill="#000"/><circle cx="2051.40" cy="2597.65" r="12.1" fill="#e41a21"/>
<ellipse cx="2205.60" cy="2555.81" rx="19.4" ry="18.4" fill="#000"/><circle cx="2205.60" cy="2555.81" r="12.1" fill="#e41a21"/>
<ellipse cx="2359.80" cy="2053.65" rx="19.4" ry="18.4" fill="#000"/><circle cx="2359.80" cy="2053.65" r="12.1" fill="#e41a21"/>
<ellipse cx="1434.60" cy="2639.50" rx="19.4" ry="18.4" fill="#000"/><circle cx="1434.60" cy="2639.50" r="12.1" fill="#a19fa4"/>
<ellipse cx="1588.80" cy="2639.50" rx="19.4" ry="18.4" fill="#000"/><circle cx="1588.80" cy="2639.50" r="12.1" fill="#a19fa4"/>
<ellipse cx="1743.00" cy="2639.50" rx="19.4" ry="18.4" fill="#000"/><circle cx="1743.00" cy="2639.50" r="12.1" fill="#a19fa4"/>
<ellipse cx="1897.20" cy="2639.50" rx="19.4" ry="18.4" fill="#000"/><circle cx="1897.20" cy="2639.50" r="12.1" fill="#a19fa4"/>
<ellipse cx="2051.40" cy="2597.65" rx="19.4" ry="18.4" fill="#000"/><circle cx="2051.40" cy="2597.65" r="12.1" fill="#a19fa4"/>
<ellipse cx="2205.60" cy="2555.81" rx="19.4" ry="18.4" fill="#000"/><circle cx="2205.60" cy="2555.81" r="12.1" fill="#a19fa4"/>
<ellipse cx="2359.80" cy="2221.03" rx="19.4" ry="18.4" fill="#000"/><circle cx="2359.80" cy="2221.03" r="12.1" fill="#a19fa4"/>
<ellipse cx="1434.60" cy="2639.50" rx="19.4" ry="18.4" fill="#000"/><circle cx="1434.60" cy="2639.50" r="12.1" fill="#42ab36"/>
<ellipse cx="1588.80" cy="2639.50" rx="19.4" ry="18.4" fill="#000"/><circle cx="1588.80" cy="2639.50" r="12.1" fill="#42ab36"/>
<ellipse cx="1743.00" cy="2639.50" rx="19.4" ry="18.4" fill="#000"/><circle cx="1743.00" cy="2639.50" r="12.1" fill="#42ab36"/>
<ellipse cx="1897.20" cy="2639.50" rx="19.4" ry="18.4" fill="#000"/><circle cx="1897.20" cy="2639.50" r="12.1" fill="#42ab36"/>
<ellipse cx="2051.40" cy="2597.65" rx="19.4" ry="18.4" fill="#000"/><circle cx="2051.40" cy="2597.65" r="12.1" fill="#42ab36"/>
<ellipse cx="2205.60" cy="2430.27" rx="19.4" ry="18.4" fill="#000"/><circle cx="2205.60" cy="2430.27" r="12.1" fill="#42ab36"/>
<ellipse cx="2359.80" cy="2388.42" rx="19.4" ry="18.4" fill="#000"/><circle cx="2359.80" cy="2388.42" r="12.1" fill="#42ab36"/>
<line x1="318.35" y1="2766.00" x2="1265.45" y2="2766.00" stroke="#000" stroke-width="6.5" stroke-linecap="butt"/>
<line x1="1262.20" y1="2762.75" x2="1262.20" y2="3413.00" stroke="#000" stroke-width="6.5" stroke-linecap="butt"/>
<line x1="336.60" y1="3394.00" x2="1262.20" y2="3394.00" stroke="#000" stroke-width="6.5" stroke-linecap="butt"/>
<line x1="337.00" y1="3394.00" x2="337.00" y2="3413.00" stroke="#000" stroke-width="6.5" stroke-linecap="butt"/>
<line x1="491.20" y1="3394.00" x2="491.20" y2="3413.00" stroke="#000" stroke-width="6.5" stroke-linecap="butt"/>
<line x1="645.40" y1="3394.00" x2="645.40" y2="3413.00" stroke="#000" stroke-width="6.5" stroke-linecap="butt"/>
<line x1="799.60" y1="3394.00" x2="799.60" y2="3413.00" stroke="#000" stroke-width="6.5" stroke-linecap="butt"/>
<line x1="953.80" y1="3394.00" x2="953.80" y2="3413.00" stroke="#000" stroke-width="6.5" stroke-linecap="butt"/>
<line x1="1108.00" y1="3394.00" x2="1108.00" y2="3413.00" stroke="#000" stroke-width="6.5" stroke-linecap="butt"/>
<line x1="336.60" y1="2762.75" x2="336.60" y2="3397.25" stroke="#000" stroke-width="6.5" stroke-linecap="butt"/>
<line x1="316.60" y1="3394.00" x2="336.60" y2="3394.00" stroke="#000" stroke-width="6.5" stroke-linecap="butt"/>
<line x1="316.60" y1="3268.40" x2="336.60" y2="3268.40" stroke="#000" stroke-width="6.5" stroke-linecap="butt"/>
<line x1="316.60" y1="3142.80" x2="336.60" y2="3142.80" stroke="#000" stroke-width="6.5" stroke-linecap="butt"/>
<line x1="316.60" y1="3017.20" x2="336.60" y2="3017.20" stroke="#000" stroke-width="6.5" stroke-linecap="butt"/>
<line x1="316.60" y1="2891.60" x2="336.60" y2="2891.60" stroke="#000" stroke-width="6.5" stroke-linecap="butt"/>
<line x1="316.60" y1="2766.00" x2="336.60" y2="2766.00" stroke="#000" stroke-width="6.5" stroke-linecap="butt"/>
<text transform="translate(306.60,3411.03) scale(1.0600,1.0407)" font-size="40.80" text-anchor="end" fill="#000">0</text>
<text transform="translate(306.60,3285.43) scale(1.0600,1.0407)" font-size="40.80" text-anchor="end" fill="#000">10</text>
<text transform="translate(306.60,3159.83) scale(1.0600,1.0407)" font-size="40.80" text-anchor="end" fill="#000">20</text>
<text transform="translate(306.60,3034.23) scale(1.0600,1.0407)" font-size="40.80" text-anchor="end" fill="#000">30</text>
<text transform="translate(306.60,2908.63) scale(1.0600,1.0407)" font-size="40.80" text-anchor="end" fill="#000">40</text>
<text transform="translate(306.60,2783.03) scale(1.0600,1.0407)" font-size="40.80" text-anchor="end" fill="#000">50</text>
<text transform="translate(339.87,3474.50) scale(1.0300,1.0407)" font-size="53.50" text-anchor="middle" fill="#000">20</text>
<text transform="translate(493.00,3474.50) scale(1.0300,1.0407)" font-size="53.50" text-anchor="middle" fill="#000">10</text>
<text transform="translate(646.32,3474.50) scale(1.0300,1.0407)" font-size="53.50" text-anchor="middle" fill="#000">5</text>
<text transform="translate(804.44,3474.50) scale(1.0300,1.0407)" font-size="53.50" text-anchor="middle" fill="#000">2</text>
<text transform="translate(954.44,3474.50) scale(1.0300,1.0407)" font-size="53.50" text-anchor="middle" fill="#000">1</text>
<text transform="translate(1109.97,3474.50) scale(1.0300,1.0407)" font-size="53.50" text-anchor="middle" fill="#000">0.5</text>
<text transform="translate(1255.07,3474.50) scale(1.0300,1.0407)" font-size="53.50" text-anchor="middle" fill="#000">0.1</text>
<path d="M337.00,3394.00 L491.20,3394.00 L645.40,3394.00 L799.60,3394.00 L953.80,3394.00 L1108.00,3346.27 L1262.20,3113.91" fill="none" stroke="#e41a21" stroke-width="9.0" stroke-linejoin="round"/>
<path d="M337.00,3394.00 L491.20,3394.00 L645.40,3394.00 L799.60,3394.00 L953.80,3394.00 L1108.00,3342.50 L1262.20,3028.50" fill="none" stroke="#a19fa4" stroke-width="11.0" stroke-linejoin="round"/>
<path d="M337.00,3394.00 L491.20,3394.00 L645.40,3394.00 L799.60,3394.00 L953.80,3394.00 L1108.00,3370.14 L1262.20,3103.86" fill="none" stroke="#42ab36" stroke-width="10.5" stroke-linejoin="round"/>
<ellipse cx="337.00" cy="3394.00" rx="19.4" ry="18.4" fill="#000"/><circle cx="337.00" cy="3394.00" r="12.1" fill="#e41a21"/>
<ellipse cx="491.20" cy="3394.00" rx="19.4" ry="18.4" fill="#000"/><circle cx="491.20" cy="3394.00" r="12.1" fill="#e41a21"/>
<ellipse cx="645.40" cy="3394.00" rx="19.4" ry="18.4" fill="#000"/><circle cx="645.40" cy="3394.00" r="12.1" fill="#e41a21"/>
<ellipse cx="799.60" cy="3394.00" rx="19.4" ry="18.4" fill="#000"/><circle cx="799.60" cy="3394.00" r="12.1" fill="#e41a21"/>
<ellipse cx="953.80" cy="3394.00" rx="19.4" ry="18.4" fill="#000"/><circle cx="953.80" cy="3394.00" r="12.1" fill="#e41a21"/>
<ellipse cx="1108.00" cy="3346.27" rx="19.4" ry="18.4" fill="#000"/><circle cx="1108.00" cy="3346.27" r="12.1" fill="#e41a21"/>
<ellipse cx="1262.20" cy="3113.91" rx="19.4" ry="18.4" fill="#000"/><circle cx="1262.20" cy="3113.91" r="12.1" fill="#e41a21"/>
<ellipse cx="337.00" cy="3394.00" rx="19.4" ry="18.4" fill="#000"/><circle cx="337.00" cy="3394.00" r="12.1" fill="#a19fa4"/>
<ellipse cx="491.20" cy="3394.00" rx="19.4" ry="18.4" fill="#000"/><circle cx="491.20" cy="3394.00" r="12.1" fill="#a19fa4"/>
<ellipse cx="645.40" cy="3394.00" rx="19.4" ry="18.4" fill="#000"/><circle cx="645.40" cy="3394.00" r="12.1" fill="#a19fa4"/>
<ellipse cx="799.60" cy="3394.00" rx="19.4" ry="18.4" fill="#000"/><circle cx="799.60" cy="3394.00" r="12.1" fill="#a19fa4"/>
<ellipse cx="953.80" cy="3394.00" rx="19.4" ry="18.4" fill="#000"/><circle cx="953.80" cy="3394.00" r="12.1" fill="#a19fa4"/>
<ellipse cx="1108.00" cy="3342.50" rx="19.4" ry="18.4" fill="#000"/><circle cx="1108.00" cy="3342.50" r="12.1" fill="#a19fa4"/>
<ellipse cx="1262.20" cy="3028.50" rx="19.4" ry="18.4" fill="#000"/><circle cx="1262.20" cy="3028.50" r="12.1" fill="#a19fa4"/>
<ellipse cx="337.00" cy="3394.00" rx="19.4" ry="18.4" fill="#000"/><circle cx="337.00" cy="3394.00" r="12.1" fill="#42ab36"/>
<ellipse cx="491.20" cy="3394.00" rx="19.4" ry="18.4" fill="#000"/><circle cx="491.20" cy="3394.00" r="12.1" fill="#42ab36"/>
<ellipse cx="645.40" cy="3394.00" rx="19.4" ry="18.4" fill="#000"/><circle cx="645.40" cy="3394.00" r="12.1" fill="#42ab36"/>
<ellipse cx="799.60" cy="3394.00" rx="19.4" ry="18.4" fill="#000"/><circle cx="799.60" cy="3394.00" r="12.1" fill="#42ab36"/>
<ellipse cx="953.80" cy="3394.00" rx="19.4" ry="18.4" fill="#000"/><circle cx="953.80" cy="3394.00" r="12.1" fill="#42ab36"/>
<ellipse cx="1108.00" cy="3370.14" rx="19.4" ry="18.4" fill="#000"/><circle cx="1108.00" cy="3370.14" r="12.1" fill="#42ab36"/>
<ellipse cx="1262.20" cy="3103.86" rx="19.4" ry="18.4" fill="#000"/><circle cx="1262.20" cy="3103.86" r="12.1" fill="#42ab36"/>
<line x1="1416.45" y1="2766.00" x2="2363.05" y2="2766.00" stroke="#000" stroke-width="6.5" stroke-linecap="butt"/>
<line x1="2359.80" y1="2762.75" x2="2359.80" y2="3413.00" stroke="#000" stroke-width="6.5" stroke-linecap="butt"/>
<line x1="1434.70" y1="3394.00" x2="2359.80" y2="3394.00" stroke="#000" stroke-width="6.5" stroke-linecap="butt"/>
<line x1="1434.60" y1="3394.00" x2="1434.60" y2="3413.00" stroke="#000" stroke-width="6.5" stroke-linecap="butt"/>
<line x1="1588.80" y1="3394.00" x2="1588.80" y2="3413.00" stroke="#000" stroke-width="6.5" stroke-linecap="butt"/>
<line x1="1743.00" y1="3394.00" x2="1743.00" y2="3413.00" stroke="#000" stroke-width="6.5" stroke-linecap="butt"/>
<line x1="1897.20" y1="3394.00" x2="1897.20" y2="3413.00" stroke="#000" stroke-width="6.5" stroke-linecap="butt"/>
<line x1="2051.40" y1="3394.00" x2="2051.40" y2="3413.00" stroke="#000" stroke-width="6.5" stroke-linecap="butt"/>
<line x1="2205.60" y1="3394.00" x2="2205.60" y2="3413.00" stroke="#000" stroke-width="6.5" stroke-linecap="butt"/>
<line x1="1434.70" y1="2762.75" x2="1434.70" y2="3397.25" stroke="#000" stroke-width="6.5" stroke-linecap="butt"/>
<line x1="1414.70" y1="3394.00" x2="1434.70" y2="3394.00" stroke="#000" stroke-width="6.5" stroke-linecap="butt"/>
<line x1="1414.70" y1="3268.40" x2="1434.70" y2="3268.40" stroke="#000" stroke-width="6.5" stroke-linecap="butt"/>
<line x1="1414.70" y1="3142.80" x2="1434.70" y2="3142.80" stroke="#000" stroke-width="6.5" stroke-linecap="butt"/>
<line x1="1414.70" y1="3017.20" x2="1434.70" y2="3017.20" stroke="#000" stroke-width="6.5" stroke-linecap="butt"/>
<line x1="1414.70" y1="2891.60" x2="1434.70" y2="2891.60" stroke="#000" stroke-width="6.5" stroke-linecap="butt"/>
<line x1="1414.70" y1="2766.00" x2="1434.70" y2="2766.00" stroke="#000" stroke-width="6.5" stroke-linecap="butt"/>
<text transform="translate(1404.70,3411.03) scale(1.0600,1.0407)" font-size="40.80" text-anchor="end" fill="#000">0</text>
<text transform="translate(1404.70,3285.43) scale(1.0600,1.0407)" font-size="40.80" text-anchor="end" fill="#000">10</text>
<text transform="translate(1404.70,3159.83) scale(1.0600,1.0407)" font-size="40.80" text-anchor="end" fill="#000">20</text>
<text transform="translate(1404.70,3034.23) scale(1.0600,1.0407)" font-size="40.80" text-anchor="end" fill="#000">30</text>
<text transform="translate(1404.70,2908.63) scale(1.0600,1.0407)" font-size="40.80" text-anchor="end" fill="#000">40</text>
<text transform="translate(1404.70,2783.03) scale(1.0600,1.0407)" font-size="40.80" text-anchor="end" fill="#000">50</text>
<text transform="translate(1437.47,3474.50) scale(1.0300,1.0407)" font-size="53.50" text-anchor="middle" fill="#000">20</text>
<text transform="translate(1590.60,3474.50) scale(1.0300,1.0407)" font-size="53.50" text-anchor="middle" fill="#000">10</text>
<text transform="translate(1743.92,3474.50) scale(1.0300,1.0407)" font-size="53.50" text-anchor="middle" fill="#000">5</text>
<text transform="translate(1902.04,3474.50) scale(1.0300,1.0407)" font-size="53.50" text-anchor="middle" fill="#000">2</text>
<text transform="translate(2052.04,3474.50) scale(1.0300,1.0407)" font-size="53.50" text-anchor="middle" fill="#000">1</text>
<text transform="translate(2207.57,3474.50) scale(1.0300,1.0407)" font-size="53.50" text-anchor="middle" fill="#000">0.5</text>
<text transform="translate(2352.67,3474.50) scale(1.0300,1.0407)" font-size="53.50" text-anchor="middle" fill="#000">0.1</text>
<path d="M1434.60,3394.00 L1588.80,3394.00 L1743.00,3394.00 L1897.20,3394.00 L2051.40,3345.02 L2205.60,3272.17 L2359.80,2876.53" fill="none" stroke="#e41a21" stroke-width="11.0" stroke-linejoin="round"/>
<path d="M1434.60,3394.00 L1588.80,3394.00 L1743.00,3394.00 L1897.20,3394.00 L2051.40,3342.50 L2205.60,3267.14 L2359.80,2863.97" fill="none" stroke="#a19fa4" stroke-width="11.0" stroke-linejoin="round"/>
<path d="M1434.60,3394.00 L1588.80,3394.00 L1743.00,3394.00 L1897.20,3394.00 L2051.40,3368.88 L2205.60,3293.52 L2359.80,3166.66" fill="none" stroke="#42ab36" stroke-width="10.5" stroke-linejoin="round"/>
<ellipse cx="1434.60" cy="3394.00" rx="19.4" ry="18.4" fill="#000"/><circle cx="1434.60" cy="3394.00" r="12.1" fill="#e41a21"/>
<ellipse cx="1588.80" cy="3394.00" rx="19.4" ry="18.4" fill="#000"/><circle cx="1588.80" cy="3394.00" r="12.1" fill="#e41a21"/>
<ellipse cx="1743.00" cy="3394.00" rx="19.4" ry="18.4" fill="#000"/><circle cx="1743.00" cy="3394.00" r="12.1" fill="#e41a21"/>
<ellipse cx="1897.20" cy="3394.00" rx="19.4" ry="18.4" fill="#000"/><circle cx="1897.20" cy="3394.00" r="12.1" fill="#e41a21"/>
<ellipse cx="2051.40" cy="3345.02" rx="19.4" ry="18.4" fill="#000"/><circle cx="2051.40" cy="3345.02" r="12.1" fill="#e41a21"/>
<ellipse cx="2205.60" cy="3272.17" rx="19.4" ry="18.4" fill="#000"/><circle cx="2205.60" cy="3272.17" r="12.1" fill="#e41a21"/>
<ellipse cx="2359.80" cy="2876.53" rx="19.4" ry="18.4" fill="#000"/><circle cx="2359.80" cy="2876.53" r="12.1" fill="#e41a21"/>
<ellipse cx="1434.60" cy="3394.00" rx="19.4" ry="18.4" fill="#000"/><circle cx="1434.60" cy="3394.00" r="12.1" fill="#a19fa4"/>
<ellipse cx="1588.80" cy="3394.00" rx="19.4" ry="18.4" fill="#000"/><circle cx="1588.80" cy="3394.00" r="12.1" fill="#a19fa4"/>
<ellipse cx="1743.00" cy="3394.00" rx="19.4" ry="18.4" fill="#000"/><circle cx="1743.00" cy="3394.00" r="12.1" fill="#a19fa4"/>
<ellipse cx="1897.20" cy="3394.00" rx="19.4" ry="18.4" fill="#000"/><circle cx="1897.20" cy="3394.00" r="12.1" fill="#a19fa4"/>
<ellipse cx="2051.40" cy="3342.50" rx="19.4" ry="18.4" fill="#000"/><circle cx="2051.40" cy="3342.50" r="12.1" fill="#a19fa4"/>
<ellipse cx="2205.60" cy="3267.14" rx="19.4" ry="18.4" fill="#000"/><circle cx="2205.60" cy="3267.14" r="12.1" fill="#a19fa4"/>
<ellipse cx="2359.80" cy="2863.97" rx="19.4" ry="18.4" fill="#000"/><circle cx="2359.80" cy="2863.97" r="12.1" fill="#a19fa4"/>
<ellipse cx="1434.60" cy="3394.00" rx="19.4" ry="18.4" fill="#000"/><circle cx="1434.60" cy="3394.00" r="12.1" fill="#42ab36"/>
<ellipse cx="1588.80" cy="3394.00" rx="19.4" ry="18.4" fill="#000"/><circle cx="1588.80" cy="3394.00" r="12.1" fill="#42ab36"/>
<ellipse cx="1743.00" cy="3394.00" rx="19.4" ry="18.4" fill="#000"/><circle cx="1743.00" cy="3394.00" r="12.1" fill="#42ab36"/>
<ellipse cx="1897.20" cy="3394.00" rx="19.4" ry="18.4" fill="#000"/><circle cx="1897.20" cy="3394.00" r="12.1" fill="#42ab36"/>
<ellipse cx="2051.40" cy="3368.88" rx="19.4" ry="18.4" fill="#000"/><circle cx="2051.40" cy="3368.88" r="12.1" fill="#42ab36"/>
<ellipse cx="2205.60" cy="3293.52" rx="19.4" ry="18.4" fill="#000"/><circle cx="2205.60" cy="3293.52" r="12.1" fill="#42ab36"/>
<ellipse cx="2359.80" cy="3166.66" rx="19.4" ry="18.4" fill="#000"/><circle cx="2359.80" cy="3166.66" r="12.1" fill="#42ab36"/>
<rect x="353.70" y="310.60" width="719.50" height="224.70" fill="none" stroke="#000" stroke-width="5"/>
<line x1="672.65" y1="347.50" x2="754.15" y2="347.50" stroke="#42ab36" stroke-width="7.5" stroke-linecap="round"/>
<circle cx="713.40" cy="347.50" r="15.00" fill="#42ab36" stroke="#000" stroke-width="5"/>
<line x1="809.80" y1="347.50" x2="888.80" y2="347.50" stroke="#bdbdbd" stroke-width="10.0" stroke-linecap="round"/>
<circle cx="849.30" cy="347.50" r="15.00" fill="#bdbdbd" stroke="#000" stroke-width="5"/>
<line x1="945.75" y1="347.50" x2="1025.25" y2="347.50" stroke="#c1161c" stroke-width="9.5" stroke-linecap="round"/>
<circle cx="985.50" cy="347.50" r="15.00" fill="#c1161c" stroke="#000" stroke-width="5"/>
<text transform="translate(372.77,403.00) scale(1.0200,1.0407)" font-size="42.50" text-anchor="start" fill="#000">0.1 vs 0.5%</text>
<text transform="translate(713.93,420.83) scale(1.07,1)" font-size="58" text-anchor="middle" letter-spacing="3.8">***</text>
<text transform="translate(849.83,420.83) scale(1.07,1)" font-size="58" text-anchor="middle" letter-spacing="3.8">***</text>
<text transform="translate(986.03,420.83) scale(1.07,1)" font-size="58" text-anchor="middle" letter-spacing="3.8">***</text>
<text transform="translate(372.77,460.20) scale(1.0200,1.0407)" font-size="42.50" text-anchor="start" fill="#000">0.1 vs 1%</text>
<text transform="translate(713.93,478.03) scale(1.07,1)" font-size="58" text-anchor="middle" letter-spacing="3.8">***</text>
<text transform="translate(849.83,478.03) scale(1.07,1)" font-size="58" text-anchor="middle" letter-spacing="3.8">***</text>
<text transform="translate(986.03,478.03) scale(1.07,1)" font-size="58" text-anchor="middle" letter-spacing="3.8">***</text>
<text transform="translate(372.77,517.20) scale(1.0200,1.0407)" font-size="42.50" text-anchor="start" fill="#000">0.5 vs 1%</text>
<text transform="translate(713.93,535.03) scale(1.07,1)" font-size="58" text-anchor="middle" letter-spacing="3.8">***</text>
<text transform="translate(849.30,517.20) scale(1.0200,1.0407)" font-size="42.50" text-anchor="middle" fill="#000">n.s.</text>
<text transform="translate(985.50,517.20) scale(1.0200,1.0407)" font-size="42.50" text-anchor="middle" fill="#000">n.s.</text>
<rect x="1455.20" y="311.60" width="719.80" height="223.40" fill="none" stroke="#000" stroke-width="5"/>
<line x1="1774.25" y1="347.30" x2="1855.75" y2="347.30" stroke="#42ab36" stroke-width="7.5" stroke-linecap="round"/>
<circle cx="1815.00" cy="347.30" r="15.00" fill="#42ab36" stroke="#000" stroke-width="5"/>
<line x1="1911.30" y1="347.30" x2="1990.30" y2="347.30" stroke="#bdbdbd" stroke-width="10.0" stroke-linecap="round"/>
<circle cx="1950.80" cy="347.30" r="15.00" fill="#bdbdbd" stroke="#000" stroke-width="5"/>
<line x1="2046.05" y1="347.30" x2="2125.55" y2="347.30" stroke="#c1161c" stroke-width="9.5" stroke-linecap="round"/>
<circle cx="2085.80" cy="347.30" r="15.00" fill="#c1161c" stroke="#000" stroke-width="5"/>
<text transform="translate(1474.37,403.00) scale(1.0200,1.0407)" font-size="42.50" text-anchor="start" fill="#000">0.1 vs 0.5%</text>
<text transform="translate(1815.53,420.83) scale(1.07,1)" font-size="58" text-anchor="middle" letter-spacing="3.8">***</text>
<text transform="translate(1951.33,420.83) scale(1.07,1)" font-size="58" text-anchor="middle" letter-spacing="3.8">***</text>
<text transform="translate(2086.33,420.83) scale(1.07,1)" font-size="58" text-anchor="middle" letter-spacing="3.8">***</text>
<text transform="translate(1474.37,460.20) scale(1.0200,1.0407)" font-size="42.50" text-anchor="start" fill="#000">0.1 vs 1%</text>
<text transform="translate(1815.53,478.03) scale(1.07,1)" font-size="58" text-anchor="middle" letter-spacing="3.8">***</text>
<text transform="translate(1951.33,478.03) scale(1.07,1)" font-size="58" text-anchor="middle" letter-spacing="3.8">***</text>
<text transform="translate(2086.33,478.03) scale(1.07,1)" font-size="58" text-anchor="middle" letter-spacing="3.8">***</text>
<text transform="translate(1474.37,517.20) scale(1.0200,1.0407)" font-size="42.50" text-anchor="start" fill="#000">0.5 vs 1%</text>
<text transform="translate(1815.00,517.20) scale(1.0200,1.0407)" font-size="42.50" text-anchor="middle" fill="#000">n.s.</text>
<text transform="translate(1950.80,517.20) scale(1.0200,1.0407)" font-size="42.50" text-anchor="middle" fill="#000">n.s.</text>
<text transform="translate(2085.80,517.20) scale(1.0200,1.0407)" font-size="42.50" text-anchor="middle" fill="#000">n.s.</text>
<rect x="353.70" y="1063.50" width="719.50" height="225.50" fill="none" stroke="#000" stroke-width="5"/>
<line x1="672.65" y1="1100.50" x2="754.15" y2="1100.50" stroke="#42ab36" stroke-width="7.5" stroke-linecap="round"/>
<circle cx="713.40" cy="1100.50" r="15.00" fill="#42ab36" stroke="#000" stroke-width="5"/>
<line x1="809.80" y1="1100.50" x2="888.80" y2="1100.50" stroke="#bdbdbd" stroke-width="10.0" stroke-linecap="round"/>
<circle cx="849.30" cy="1100.50" r="15.00" fill="#bdbdbd" stroke="#000" stroke-width="5"/>
<line x1="945.75" y1="1100.50" x2="1025.25" y2="1100.50" stroke="#c1161c" stroke-width="9.5" stroke-linecap="round"/>
<circle cx="985.50" cy="1100.50" r="15.00" fill="#c1161c" stroke="#000" stroke-width="5"/>
<text transform="translate(372.77,1156.00) scale(1.0200,1.0407)" font-size="42.50" text-anchor="start" fill="#000">0.1 vs 0.5%</text>
<text transform="translate(713.93,1173.83) scale(1.07,1)" font-size="58" text-anchor="middle" letter-spacing="3.8">***</text>
<text transform="translate(849.83,1173.83) scale(1.07,1)" font-size="58" text-anchor="middle" letter-spacing="3.8">***</text>
<text transform="translate(986.03,1173.83) scale(1.07,1)" font-size="58" text-anchor="middle" letter-spacing="3.8">***</text>
<text transform="translate(372.77,1213.20) scale(1.0200,1.0407)" font-size="42.50" text-anchor="start" fill="#000">0.1 vs 1%</text>
<text transform="translate(713.93,1231.03) scale(1.07,1)" font-size="58" text-anchor="middle" letter-spacing="3.8">***</text>
<text transform="translate(849.83,1231.03) scale(1.07,1)" font-size="58" text-anchor="middle" letter-spacing="3.8">***</text>
<text transform="translate(986.03,1231.03) scale(1.07,1)" font-size="58" text-anchor="middle" letter-spacing="3.8">***</text>
<text transform="translate(372.77,1270.20) scale(1.0200,1.0407)" font-size="42.50" text-anchor="start" fill="#000">0.5 vs 1%</text>
<text transform="translate(713.93,1288.03) scale(1.07,1)" font-size="58" text-anchor="middle" letter-spacing="3.8">***</text>
<text transform="translate(849.30,1270.20) scale(1.0200,1.0407)" font-size="42.50" text-anchor="middle" fill="#000">n.s.</text>
<text transform="translate(985.50,1270.20) scale(1.0200,1.0407)" font-size="42.50" text-anchor="middle" fill="#000">n.s.</text>
<rect x="1455.00" y="1065.20" width="720.00" height="222.40" fill="none" stroke="#000" stroke-width="5"/>
<line x1="1771.65" y1="1100.10" x2="1853.15" y2="1100.10" stroke="#42ab36" stroke-width="7.5" stroke-linecap="round"/>
<circle cx="1812.40" cy="1100.10" r="15.00" fill="#42ab36" stroke="#000" stroke-width="5"/>
<line x1="1908.90" y1="1100.10" x2="1987.90" y2="1100.10" stroke="#bdbdbd" stroke-width="10.0" stroke-linecap="round"/>
<circle cx="1948.40" cy="1100.10" r="15.00" fill="#bdbdbd" stroke="#000" stroke-width="5"/>
<line x1="2044.55" y1="1100.10" x2="2124.05" y2="1100.10" stroke="#c1161c" stroke-width="9.5" stroke-linecap="round"/>
<circle cx="2084.30" cy="1100.10" r="15.00" fill="#c1161c" stroke="#000" stroke-width="5"/>
<text transform="translate(1472.17,1155.00) scale(1.0200,1.0407)" font-size="42.50" text-anchor="start" fill="#000">0.1 vs 0.5%</text>
<text transform="translate(1812.93,1172.83) scale(1.07,1)" font-size="58" text-anchor="middle" letter-spacing="3.8">***</text>
<text transform="translate(1948.93,1172.83) scale(1.07,1)" font-size="58" text-anchor="middle" letter-spacing="3.8">***</text>
<text transform="translate(2084.83,1172.83) scale(1.07,1)" font-size="58" text-anchor="middle" letter-spacing="3.8">***</text>
<text transform="translate(1472.17,1212.20) scale(1.0200,1.0407)" font-size="42.50" text-anchor="start" fill="#000">0.1 vs 1%</text>
<text transform="translate(1812.93,1230.03) scale(1.07,1)" font-size="58" text-anchor="middle" letter-spacing="3.8">***</text>
<text transform="translate(1948.93,1230.03) scale(1.07,1)" font-size="58" text-anchor="middle" letter-spacing="3.8">***</text>
<text transform="translate(2084.83,1230.03) scale(1.07,1)" font-size="58" text-anchor="middle" letter-spacing="3.8">***</text>
<text transform="translate(1472.17,1269.20) scale(1.0200,1.0407)" font-size="42.50" text-anchor="start" fill="#000">0.5 vs 1%</text>
<text transform="translate(1812.93,1287.03) scale(1.07,1)" font-size="58" text-anchor="middle" letter-spacing="3.8">***</text>
<text transform="translate(1948.40,1269.20) scale(1.0200,1.0407)" font-size="42.50" text-anchor="middle" fill="#000">n.s.</text>
<text transform="translate(2084.30,1269.20) scale(1.0200,1.0407)" font-size="42.50" text-anchor="middle" fill="#000">n.s.</text>
<rect x="353.70" y="2028.50" width="719.50" height="122.50" fill="none" stroke="#000" stroke-width="5"/>
<line x1="671.75" y1="2064.50" x2="753.25" y2="2064.50" stroke="#42ab36" stroke-width="7.5" stroke-linecap="round"/>
<circle cx="712.50" cy="2064.50" r="15.00" fill="#42ab36" stroke="#000" stroke-width="5"/>
<line x1="808.90" y1="2064.50" x2="887.90" y2="2064.50" stroke="#bdbdbd" stroke-width="10.0" stroke-linecap="round"/>
<circle cx="848.40" cy="2064.50" r="15.00" fill="#bdbdbd" stroke="#000" stroke-width="5"/>
<line x1="945.05" y1="2064.50" x2="1024.55" y2="2064.50" stroke="#c1161c" stroke-width="9.5" stroke-linecap="round"/>
<circle cx="984.80" cy="2064.50" r="15.00" fill="#c1161c" stroke="#000" stroke-width="5"/>
<text transform="translate(371.97,2119.90) scale(1.0200,1.0407)" font-size="42.50" text-anchor="start" fill="#000">0.1 vs 0.5%</text>
<text transform="translate(713.03,2137.73) scale(1.07,1)" font-size="58" text-anchor="middle" letter-spacing="3.8">***</text>
<text transform="translate(848.93,2137.73) scale(1.07,1)" font-size="58" text-anchor="middle" letter-spacing="3.8">*</text>
<text transform="translate(985.33,2137.73) scale(1.07,1)" font-size="58" text-anchor="middle" letter-spacing="3.8">*</text>
<rect x="1448.50" y="2026.60" width="721.50" height="127.90" fill="none" stroke="#000" stroke-width="5"/>
<line x1="1767.65" y1="2064.00" x2="1849.15" y2="2064.00" stroke="#42ab36" stroke-width="7.5" stroke-linecap="round"/>
<circle cx="1808.40" cy="2064.00" r="15.00" fill="#42ab36" stroke="#000" stroke-width="5"/>
<line x1="1904.40" y1="2064.00" x2="1983.40" y2="2064.00" stroke="#bdbdbd" stroke-width="10.0" stroke-linecap="round"/>
<circle cx="1943.90" cy="2064.00" r="15.00" fill="#bdbdbd" stroke="#000" stroke-width="5"/>
<line x1="2040.85" y1="2064.00" x2="2120.35" y2="2064.00" stroke="#c1161c" stroke-width="9.5" stroke-linecap="round"/>
<circle cx="2080.60" cy="2064.00" r="15.00" fill="#c1161c" stroke="#000" stroke-width="5"/>
<text transform="translate(1468.07,2118.90) scale(1.0200,1.0407)" font-size="42.50" text-anchor="start" fill="#000">0.1 vs 0.5%</text>
<text transform="translate(1808.40,2118.90) scale(1.0200,1.0407)" font-size="42.50" text-anchor="middle" fill="#000">n.s.</text>
<text transform="translate(1944.43,2136.73) scale(1.07,1)" font-size="58" text-anchor="middle" letter-spacing="3.8">*</text>
<text transform="translate(2081.13,2136.73) scale(1.07,1)" font-size="58" text-anchor="middle" letter-spacing="3.8">***</text>
<rect x="351.60" y="2781.30" width="721.40" height="124.30" fill="none" stroke="#000" stroke-width="5"/>
<line x1="671.75" y1="2817.80" x2="753.25" y2="2817.80" stroke="#42ab36" stroke-width="7.5" stroke-linecap="round"/>
<circle cx="712.50" cy="2817.80" r="15.00" fill="#42ab36" stroke="#000" stroke-width="5"/>
<line x1="808.90" y1="2817.80" x2="887.90" y2="2817.80" stroke="#bdbdbd" stroke-width="10.0" stroke-linecap="round"/>
<circle cx="848.40" cy="2817.80" r="15.00" fill="#bdbdbd" stroke="#000" stroke-width="5"/>
<line x1="945.05" y1="2817.80" x2="1024.55" y2="2817.80" stroke="#c1161c" stroke-width="9.5" stroke-linecap="round"/>
<circle cx="984.80" cy="2817.80" r="15.00" fill="#c1161c" stroke="#000" stroke-width="5"/>
<text transform="translate(371.47,2872.70) scale(1.0200,1.0407)" font-size="42.50" text-anchor="start" fill="#000">0.1 vs 0.5%</text>
<text transform="translate(713.03,2890.53) scale(1.07,1)" font-size="58" text-anchor="middle" letter-spacing="3.8">***</text>
<text transform="translate(848.93,2890.53) scale(1.07,1)" font-size="58" text-anchor="middle" letter-spacing="3.8">***</text>
<text transform="translate(985.33,2890.53) scale(1.07,1)" font-size="58" text-anchor="middle" letter-spacing="3.8">***</text>
<rect x="1452.30" y="2779.90" width="722.70" height="126.10" fill="none" stroke="#000" stroke-width="5"/>
<line x1="1771.95" y1="2817.80" x2="1853.45" y2="2817.80" stroke="#42ab36" stroke-width="7.5" stroke-linecap="round"/>
<circle cx="1812.70" cy="2817.80" r="15.00" fill="#42ab36" stroke="#000" stroke-width="5"/>
<line x1="1910.00" y1="2817.80" x2="1989.00" y2="2817.80" stroke="#bdbdbd" stroke-width="10.0" stroke-linecap="round"/>
<circle cx="1949.50" cy="2817.80" r="15.00" fill="#bdbdbd" stroke="#000" stroke-width="5"/>
<line x1="2045.25" y1="2817.80" x2="2124.75" y2="2817.80" stroke="#c1161c" stroke-width="9.5" stroke-linecap="round"/>
<circle cx="2085.00" cy="2817.80" r="15.00" fill="#c1161c" stroke="#000" stroke-width="5"/>
<text transform="translate(1472.97,2873.10) scale(1.0200,1.0407)" font-size="42.50" text-anchor="start" fill="#000">0.1 vs 0.5%</text>
<text transform="translate(1812.70,2873.10) scale(1.0200,1.0407)" font-size="42.50" text-anchor="middle" fill="#000">n.s.</text>
<text transform="translate(1950.03,2890.93) scale(1.07,1)" font-size="58" text-anchor="middle" letter-spacing="3.8">***</text>
<text transform="translate(2085.53,2890.93) scale(1.07,1)" font-size="58" text-anchor="middle" letter-spacing="3.8">***</text>
<text transform="translate(118.60,874.23) rotate(-90) scale(0.9659,1.0407)" font-size="54.47" text-anchor="start" fill="#000">Number of different</text>
<text transform="translate(184.90,735.69) rotate(-90) scale(0.9720,1.0407)" font-size="54.47" text-anchor="start" fill="#000">mutations</text>
<text transform="translate(117.10,1599.74) rotate(-90) scale(0.9692,1.0407)" font-size="54.47" text-anchor="start" fill="#000">Number of total</text>
<text transform="translate(182.30,1510.49) rotate(-90) scale(0.9720,1.0407)" font-size="54.47" text-anchor="start" fill="#000">mutations</text>
<text transform="translate(119.30,2545.75) rotate(-90) scale(0.9739,1.0407)" font-size="54.47" text-anchor="start" fill="#000">Number of different</text>
<text transform="translate(184.90,2393.76) rotate(-90) scale(0.9691,1.0407)" font-size="54.47" text-anchor="start" fill="#000">deletions</text>
<text transform="translate(118.40,3269.35) rotate(-90) scale(0.9735,1.0407)" font-size="54.47" text-anchor="start" fill="#000">Number of total</text>
<text transform="translate(184.20,3168.67) rotate(-90) scale(0.9738,1.0407)" font-size="54.47" text-anchor="start" fill="#000">deletions</text>
<text transform="translate(664.25,1835.20) scale(1.0184,1.0407)" font-size="53.91" text-anchor="start" fill="#000">Cut-off (%)</text>
<text transform="translate(1761.15,1835.70) scale(1.0184,1.0407)" font-size="53.91" text-anchor="start" fill="#000">Cut-off (%)</text>
<text transform="translate(663.35,3549.00) scale(1.0184,1.0407)" font-size="53.91" text-anchor="start" fill="#000">Cut-off (%)</text>
<text transform="translate(1761.15,3549.50) scale(1.0184,1.0407)" font-size="53.91" text-anchor="start" fill="#000">Cut-off (%)</text>
</svg>
</body></html>
